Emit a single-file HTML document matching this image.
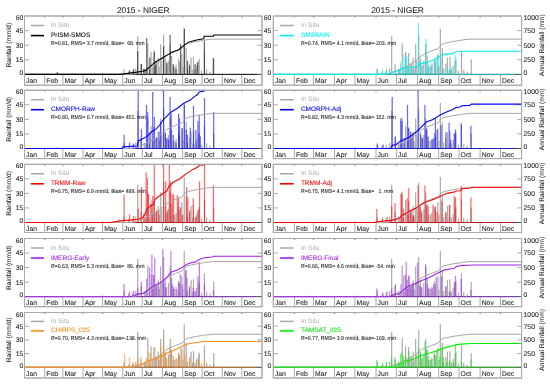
<!DOCTYPE html>
<html><head><meta charset="utf-8"><style>
html,body{margin:0;padding:0;background:#fff;width:550px;height:384px;overflow:hidden}
svg text{font-family:"Liberation Sans", sans-serif;stroke-width:0.07px;text-rendering:geometricPrecision}
</style></head><body>
<svg width="550" height="384" viewBox="0 0 550 384" style="display:block;will-change:transform">
<rect width="550" height="384" fill="#fff"/>
<text x="143.2" y="12.8" font-size="8.4" text-anchor="middle" fill="#1a1a1a" stroke="#1a1a1a">2015 - NIGER</text>
<text x="397.5" y="12.8" font-size="8.4" text-anchor="middle" fill="#1a1a1a" stroke="#1a1a1a">2015 - NIGER</text>
<g><rect x="24.5" y="16.0" width="237.5" height="69.2" fill="none" stroke="#aaaaaa" stroke-width="1"/><line x1="24.5" y1="74.4" x2="262.0" y2="74.4" stroke="#aaaaaa" stroke-width="1"/><text x="26.10" y="83.00" font-size="6.8" fill="#1a1a1a" stroke="#1a1a1a">Jan</text><line x1="44.67" y1="74.4" x2="44.67" y2="85.2" stroke="#aaaaaa" stroke-width="1"/><line x1="44.67" y1="16.0" x2="44.67" y2="17.5" stroke="#555" stroke-width="0.8"/><text x="46.27" y="83.00" font-size="6.8" fill="#1a1a1a" stroke="#1a1a1a">Feb</text><line x1="62.89" y1="74.4" x2="62.89" y2="85.2" stroke="#aaaaaa" stroke-width="1"/><line x1="62.89" y1="16.0" x2="62.89" y2="17.5" stroke="#555" stroke-width="0.8"/><text x="64.49" y="83.00" font-size="6.8" fill="#1a1a1a" stroke="#1a1a1a">Mar</text><line x1="83.06" y1="74.4" x2="83.06" y2="85.2" stroke="#aaaaaa" stroke-width="1"/><line x1="83.06" y1="16.0" x2="83.06" y2="17.5" stroke="#555" stroke-width="0.8"/><text x="84.66" y="83.00" font-size="6.8" fill="#1a1a1a" stroke="#1a1a1a">Apr</text><line x1="102.58" y1="74.4" x2="102.58" y2="85.2" stroke="#aaaaaa" stroke-width="1"/><line x1="102.58" y1="16.0" x2="102.58" y2="17.5" stroke="#555" stroke-width="0.8"/><text x="104.18" y="83.00" font-size="6.8" fill="#1a1a1a" stroke="#1a1a1a">May</text><line x1="122.75" y1="74.4" x2="122.75" y2="85.2" stroke="#aaaaaa" stroke-width="1"/><line x1="122.75" y1="16.0" x2="122.75" y2="17.5" stroke="#555" stroke-width="0.8"/><text x="124.35" y="83.00" font-size="6.8" fill="#1a1a1a" stroke="#1a1a1a">Jun</text><line x1="142.27" y1="74.4" x2="142.27" y2="85.2" stroke="#aaaaaa" stroke-width="1"/><line x1="142.27" y1="16.0" x2="142.27" y2="17.5" stroke="#555" stroke-width="0.8"/><text x="143.87" y="83.00" font-size="6.8" fill="#1a1a1a" stroke="#1a1a1a">Jul</text><line x1="162.45" y1="74.4" x2="162.45" y2="85.2" stroke="#aaaaaa" stroke-width="1"/><line x1="162.45" y1="16.0" x2="162.45" y2="17.5" stroke="#555" stroke-width="0.8"/><text x="164.05" y="83.00" font-size="6.8" fill="#1a1a1a" stroke="#1a1a1a">Aug</text><line x1="182.62" y1="74.4" x2="182.62" y2="85.2" stroke="#aaaaaa" stroke-width="1"/><line x1="182.62" y1="16.0" x2="182.62" y2="17.5" stroke="#555" stroke-width="0.8"/><text x="184.22" y="83.00" font-size="6.8" fill="#1a1a1a" stroke="#1a1a1a">Sep</text><line x1="202.14" y1="74.4" x2="202.14" y2="85.2" stroke="#aaaaaa" stroke-width="1"/><line x1="202.14" y1="16.0" x2="202.14" y2="17.5" stroke="#555" stroke-width="0.8"/><text x="203.74" y="83.00" font-size="6.8" fill="#1a1a1a" stroke="#1a1a1a">Oct</text><line x1="222.31" y1="74.4" x2="222.31" y2="85.2" stroke="#aaaaaa" stroke-width="1"/><line x1="222.31" y1="16.0" x2="222.31" y2="17.5" stroke="#555" stroke-width="0.8"/><text x="223.91" y="83.00" font-size="6.8" fill="#1a1a1a" stroke="#1a1a1a">Nov</text><line x1="241.83" y1="74.4" x2="241.83" y2="85.2" stroke="#aaaaaa" stroke-width="1"/><line x1="241.83" y1="16.0" x2="241.83" y2="17.5" stroke="#555" stroke-width="0.8"/><text x="243.43" y="83.00" font-size="6.8" fill="#1a1a1a" stroke="#1a1a1a">Dec</text><line x1="24.5" y1="59.80" x2="29.0" y2="59.80" stroke="#aaaaaa" stroke-width="1"/><line x1="257.5" y1="59.80" x2="262.0" y2="59.80" stroke="#aaaaaa" stroke-width="1"/><line x1="24.5" y1="45.20" x2="29.0" y2="45.20" stroke="#aaaaaa" stroke-width="1"/><line x1="257.5" y1="45.20" x2="262.0" y2="45.20" stroke="#aaaaaa" stroke-width="1"/><line x1="24.5" y1="30.60" x2="29.0" y2="30.60" stroke="#aaaaaa" stroke-width="1"/><line x1="257.5" y1="30.60" x2="262.0" y2="30.60" stroke="#aaaaaa" stroke-width="1"/><text x="23.20" y="75.10" font-size="6.8" text-anchor="end" fill="#1a1a1a" stroke="#1a1a1a">0</text><text x="23.20" y="62.20" font-size="6.8" text-anchor="end" fill="#1a1a1a" stroke="#1a1a1a">15</text><text x="23.20" y="47.60" font-size="6.8" text-anchor="end" fill="#1a1a1a" stroke="#1a1a1a">30</text><text x="23.20" y="33.00" font-size="6.8" text-anchor="end" fill="#1a1a1a" stroke="#1a1a1a">45</text><text x="23.20" y="20.10" font-size="6.8" text-anchor="end" fill="#1a1a1a" stroke="#1a1a1a">60</text><text transform="translate(10.6,45.20) rotate(-90)" font-size="6.6" text-anchor="middle" fill="#1a1a1a" stroke="#1a1a1a">Rainfall (mm/d)</text><clipPath id="cp00"><rect x="24.5" y="16.0" width="237.5" height="59.2"/></clipPath><g clip-path="url(#cp00)"><rect x="47.32" y="73.62" width="1.2" height="0.78" fill="#ababab"/><rect x="56.43" y="73.43" width="1.2" height="0.97" fill="#ababab"/><rect x="101.98" y="73.23" width="1.2" height="1.17" fill="#ababab"/><rect x="123.45" y="68.95" width="1.2" height="5.45" fill="#ababab"/><rect x="128.01" y="71.48" width="1.2" height="2.92" fill="#ababab"/><rect x="131.91" y="70.51" width="1.2" height="3.89" fill="#ababab"/><rect x="135.17" y="68.56" width="1.2" height="5.84" fill="#ababab"/><rect x="137.12" y="36.44" width="1.2" height="37.96" fill="#ababab"/><rect x="140.37" y="63.69" width="1.2" height="10.71" fill="#ababab"/><rect x="143.63" y="68.56" width="1.2" height="5.84" fill="#ababab"/><rect x="144.93" y="70.51" width="1.2" height="3.89" fill="#ababab"/><rect x="147.20" y="43.25" width="1.2" height="31.15" fill="#ababab"/><rect x="148.83" y="69.53" width="1.2" height="4.87" fill="#ababab"/><rect x="150.46" y="52.01" width="1.2" height="22.39" fill="#ababab"/><rect x="152.08" y="66.61" width="1.2" height="7.79" fill="#ababab"/><rect x="153.39" y="52.99" width="1.2" height="21.41" fill="#ababab"/><rect x="154.69" y="64.67" width="1.2" height="9.73" fill="#ababab"/><rect x="155.99" y="62.72" width="1.2" height="11.68" fill="#ababab"/><rect x="157.62" y="57.85" width="1.2" height="16.55" fill="#ababab"/><rect x="158.59" y="66.61" width="1.2" height="7.79" fill="#ababab"/><rect x="160.09" y="44.23" width="1.2" height="30.17" fill="#ababab"/><rect x="161.19" y="60.77" width="1.2" height="13.63" fill="#ababab"/><rect x="163.02" y="34.49" width="1.2" height="39.91" fill="#ababab"/><rect x="164.64" y="57.85" width="1.2" height="16.55" fill="#ababab"/><rect x="166.07" y="64.67" width="1.2" height="9.73" fill="#ababab"/><rect x="167.90" y="60.77" width="1.2" height="13.63" fill="#ababab"/><rect x="169.65" y="44.23" width="1.2" height="30.17" fill="#ababab"/><rect x="171.08" y="55.91" width="1.2" height="18.49" fill="#ababab"/><rect x="172.58" y="66.61" width="1.2" height="7.79" fill="#ababab"/><rect x="174.21" y="66.61" width="1.2" height="7.79" fill="#ababab"/><rect x="175.51" y="64.67" width="1.2" height="9.73" fill="#ababab"/><rect x="177.98" y="58.83" width="1.2" height="15.57" fill="#ababab"/><rect x="178.96" y="61.75" width="1.2" height="12.65" fill="#ababab"/><rect x="181.30" y="53.96" width="1.2" height="20.44" fill="#ababab"/><rect x="182.34" y="66.61" width="1.2" height="7.79" fill="#ababab"/><rect x="183.64" y="28.65" width="1.2" height="45.75" fill="#ababab"/><rect x="185.60" y="48.12" width="1.2" height="26.28" fill="#ababab"/><rect x="186.90" y="68.56" width="1.2" height="5.84" fill="#ababab"/><rect x="188.98" y="63.69" width="1.2" height="10.71" fill="#ababab"/><rect x="190.48" y="57.85" width="1.2" height="16.55" fill="#ababab"/><rect x="192.17" y="69.53" width="1.2" height="4.87" fill="#ababab"/><rect x="192.88" y="56.88" width="1.2" height="17.52" fill="#ababab"/><rect x="194.38" y="69.53" width="1.2" height="4.87" fill="#ababab"/><rect x="195.94" y="65.64" width="1.2" height="8.76" fill="#ababab"/><rect x="197.83" y="60.77" width="1.2" height="13.63" fill="#ababab"/><rect x="198.61" y="58.83" width="1.2" height="15.57" fill="#ababab"/><rect x="200.89" y="70.51" width="1.2" height="3.89" fill="#ababab"/><rect x="203.88" y="51.04" width="1.2" height="23.36" fill="#ababab"/><rect x="206.09" y="69.53" width="1.2" height="4.87" fill="#ababab"/><rect x="209.35" y="71.48" width="1.2" height="2.92" fill="#ababab"/><rect x="213.18" y="59.31" width="1.2" height="15.09" fill="#ababab"/><rect x="56.70" y="72.00" width="1.2" height="2.40" fill="#000000" fill-opacity="0.6"/><rect x="129.00" y="70.10" width="1.2" height="4.30" fill="#000000" fill-opacity="0.6"/><rect x="133.00" y="68.80" width="1.2" height="5.60" fill="#000000" fill-opacity="0.6"/><rect x="137.10" y="51.10" width="1.2" height="23.30" fill="#000000" fill-opacity="0.6"/><rect x="140.80" y="64.00" width="1.2" height="10.40" fill="#000000" fill-opacity="0.6"/><rect x="143.20" y="68.80" width="1.2" height="5.60" fill="#000000" fill-opacity="0.6"/><rect x="146.10" y="38.20" width="1.2" height="36.20" fill="#000000" fill-opacity="0.6"/><rect x="149.20" y="57.50" width="1.2" height="16.90" fill="#000000" fill-opacity="0.6"/><rect x="153.70" y="51.10" width="1.2" height="23.30" fill="#000000" fill-opacity="0.6"/><rect x="155.30" y="60.80" width="1.2" height="13.60" fill="#000000" fill-opacity="0.6"/><rect x="163.00" y="46.30" width="1.2" height="28.10" fill="#000000" fill-opacity="0.6"/><rect x="166.30" y="62.40" width="1.2" height="12.00" fill="#000000" fill-opacity="0.6"/><rect x="169.50" y="35.00" width="1.2" height="39.40" fill="#000000" fill-opacity="0.6"/><rect x="172.70" y="64.00" width="1.2" height="10.40" fill="#000000" fill-opacity="0.6"/><rect x="175.40" y="68.80" width="1.2" height="5.60" fill="#000000" fill-opacity="0.6"/><rect x="180.00" y="43.80" width="1.2" height="30.60" fill="#000000" fill-opacity="0.6"/><rect x="183.70" y="28.50" width="1.2" height="45.90" fill="#000000" fill-opacity="0.6"/><rect x="186.90" y="60.80" width="1.2" height="13.60" fill="#000000" fill-opacity="0.6"/><rect x="188.90" y="65.60" width="1.2" height="8.80" fill="#000000" fill-opacity="0.6"/><rect x="194.50" y="64.00" width="1.2" height="10.40" fill="#000000" fill-opacity="0.6"/><rect x="196.90" y="62.40" width="1.2" height="12.00" fill="#000000" fill-opacity="0.6"/><rect x="203.80" y="40.60" width="1.2" height="33.80" fill="#000000" fill-opacity="0.6"/><rect x="212.70" y="57.90" width="1.2" height="16.50" fill="#000000" fill-opacity="0.6"/><line x1="24.5" y1="74.4" x2="262.0" y2="74.4" stroke="#505050" stroke-width="1"/><line x1="24.5" y1="74.4" x2="256.8" y2="74.4" stroke="#000000" stroke-opacity="0.6" stroke-width="1"/><polyline points="24.50,74.40 131.21,74.40 136.09,73.70 138.37,72.06 141.62,71.48 146.37,69.14 152.55,65.82 158.67,62.60 163.36,57.93 166.41,55.42 171.03,53.08 175.72,51.04 181.97,48.70 185.02,44.91 188.08,43.16 190.62,42.81 196.28,41.46 202.53,40.53 205.59,39.94 212.55,39.18 262.00,39.18" fill="none" stroke="#a6a6a6" stroke-width="1"/><polyline points="24.50,74.40 118.00,74.40 120.00,74.40 137.30,72.10 142.50,71.30 145.90,70.40 148.50,67.80 154.50,62.60 158.90,60.00 163.20,57.50 167.50,54.90 171.80,52.30 178.70,49.70 183.90,45.40 189.10,41.90 197.70,39.70 203.80,38.70 204.10,36.30 213.50,36.10 213.80,35.00 262.00,35.00" fill="none" stroke="#000000" stroke-width="1.1"/></g><line x1="30.9" y1="25.5" x2="44.0" y2="25.5" stroke="#a8a8a8" stroke-width="1.5"/><text x="50.9" y="27.0" font-size="6.5" fill="#b4b4b4" stroke="#b4b4b4">In Situ</text><line x1="30.9" y1="35.6" x2="44.0" y2="35.6" stroke="#000000" stroke-width="1.6"/><text x="50.9" y="37.1" font-size="6.5" fill="#000000" stroke="#000000">PrISM-SMOS</text><text transform="translate(50.9,45.1) scale(1,1.12)" font-size="5.2" fill="#1a1a1a" stroke="#1a1a1a" xml:space="preserve">R=0.81, RMS= 3.7 mm/d, Bias=  68. mm</text><rect x="24.5" y="16.0" width="237.5" height="69.2" fill="none" stroke="#aaaaaa" stroke-width="1"/></g>
<g><rect x="273.3" y="16.0" width="248.3" height="69.2" fill="none" stroke="#aaaaaa" stroke-width="1"/><line x1="273.3" y1="74.4" x2="521.6" y2="74.4" stroke="#aaaaaa" stroke-width="1"/><text x="274.90" y="83.00" font-size="6.8" fill="#1a1a1a" stroke="#1a1a1a">Jan</text><line x1="294.39" y1="74.4" x2="294.39" y2="85.2" stroke="#aaaaaa" stroke-width="1"/><line x1="294.39" y1="16.0" x2="294.39" y2="17.5" stroke="#555" stroke-width="0.8"/><text x="295.99" y="83.00" font-size="6.8" fill="#1a1a1a" stroke="#1a1a1a">Feb</text><line x1="313.44" y1="74.4" x2="313.44" y2="85.2" stroke="#aaaaaa" stroke-width="1"/><line x1="313.44" y1="16.0" x2="313.44" y2="17.5" stroke="#555" stroke-width="0.8"/><text x="315.04" y="83.00" font-size="6.8" fill="#1a1a1a" stroke="#1a1a1a">Mar</text><line x1="334.52" y1="74.4" x2="334.52" y2="85.2" stroke="#aaaaaa" stroke-width="1"/><line x1="334.52" y1="16.0" x2="334.52" y2="17.5" stroke="#555" stroke-width="0.8"/><text x="336.12" y="83.00" font-size="6.8" fill="#1a1a1a" stroke="#1a1a1a">Apr</text><line x1="354.93" y1="74.4" x2="354.93" y2="85.2" stroke="#aaaaaa" stroke-width="1"/><line x1="354.93" y1="16.0" x2="354.93" y2="17.5" stroke="#555" stroke-width="0.8"/><text x="356.53" y="83.00" font-size="6.8" fill="#1a1a1a" stroke="#1a1a1a">May</text><line x1="376.02" y1="74.4" x2="376.02" y2="85.2" stroke="#aaaaaa" stroke-width="1"/><line x1="376.02" y1="16.0" x2="376.02" y2="17.5" stroke="#555" stroke-width="0.8"/><text x="377.62" y="83.00" font-size="6.8" fill="#1a1a1a" stroke="#1a1a1a">Jun</text><line x1="396.43" y1="74.4" x2="396.43" y2="85.2" stroke="#aaaaaa" stroke-width="1"/><line x1="396.43" y1="16.0" x2="396.43" y2="17.5" stroke="#555" stroke-width="0.8"/><text x="398.03" y="83.00" font-size="6.8" fill="#1a1a1a" stroke="#1a1a1a">Jul</text><line x1="417.52" y1="74.4" x2="417.52" y2="85.2" stroke="#aaaaaa" stroke-width="1"/><line x1="417.52" y1="16.0" x2="417.52" y2="17.5" stroke="#555" stroke-width="0.8"/><text x="419.12" y="83.00" font-size="6.8" fill="#1a1a1a" stroke="#1a1a1a">Aug</text><line x1="438.61" y1="74.4" x2="438.61" y2="85.2" stroke="#aaaaaa" stroke-width="1"/><line x1="438.61" y1="16.0" x2="438.61" y2="17.5" stroke="#555" stroke-width="0.8"/><text x="440.21" y="83.00" font-size="6.8" fill="#1a1a1a" stroke="#1a1a1a">Sep</text><line x1="459.01" y1="74.4" x2="459.01" y2="85.2" stroke="#aaaaaa" stroke-width="1"/><line x1="459.01" y1="16.0" x2="459.01" y2="17.5" stroke="#555" stroke-width="0.8"/><text x="460.61" y="83.00" font-size="6.8" fill="#1a1a1a" stroke="#1a1a1a">Oct</text><line x1="480.10" y1="74.4" x2="480.10" y2="85.2" stroke="#aaaaaa" stroke-width="1"/><line x1="480.10" y1="16.0" x2="480.10" y2="17.5" stroke="#555" stroke-width="0.8"/><text x="481.70" y="83.00" font-size="6.8" fill="#1a1a1a" stroke="#1a1a1a">Nov</text><line x1="500.51" y1="74.4" x2="500.51" y2="85.2" stroke="#aaaaaa" stroke-width="1"/><line x1="500.51" y1="16.0" x2="500.51" y2="17.5" stroke="#555" stroke-width="0.8"/><text x="502.11" y="83.00" font-size="6.8" fill="#1a1a1a" stroke="#1a1a1a">Dec</text><line x1="273.3" y1="59.80" x2="277.8" y2="59.80" stroke="#aaaaaa" stroke-width="1"/><line x1="517.1" y1="59.80" x2="521.6" y2="59.80" stroke="#aaaaaa" stroke-width="1"/><line x1="273.3" y1="45.20" x2="277.8" y2="45.20" stroke="#aaaaaa" stroke-width="1"/><line x1="517.1" y1="45.20" x2="521.6" y2="45.20" stroke="#aaaaaa" stroke-width="1"/><line x1="273.3" y1="30.60" x2="277.8" y2="30.60" stroke="#aaaaaa" stroke-width="1"/><line x1="517.1" y1="30.60" x2="521.6" y2="30.60" stroke="#aaaaaa" stroke-width="1"/><text x="271.20" y="75.10" font-size="6.8" text-anchor="end" fill="#1a1a1a" stroke="#1a1a1a">0</text><text x="271.20" y="62.20" font-size="6.8" text-anchor="end" fill="#1a1a1a" stroke="#1a1a1a">15</text><text x="271.20" y="47.60" font-size="6.8" text-anchor="end" fill="#1a1a1a" stroke="#1a1a1a">30</text><text x="271.20" y="33.00" font-size="6.8" text-anchor="end" fill="#1a1a1a" stroke="#1a1a1a">45</text><text x="271.20" y="20.10" font-size="6.8" text-anchor="end" fill="#1a1a1a" stroke="#1a1a1a">60</text><text x="523.60" y="75.10" font-size="6.8" fill="#1a1a1a" stroke="#1a1a1a">0</text><text x="523.60" y="62.20" font-size="6.8" fill="#1a1a1a" stroke="#1a1a1a">250</text><text x="523.60" y="47.60" font-size="6.8" fill="#1a1a1a" stroke="#1a1a1a">500</text><text x="523.60" y="33.00" font-size="6.8" fill="#1a1a1a" stroke="#1a1a1a">750</text><text x="523.60" y="20.10" font-size="6.8" fill="#1a1a1a" stroke="#1a1a1a">1000</text><text transform="translate(544.3,45.20) rotate(-90)" font-size="6.6" text-anchor="middle" fill="#1a1a1a" stroke="#1a1a1a">Annual Rainfall (mm)</text><clipPath id="cp01"><rect x="273.3" y="16.0" width="248.3" height="59.2"/></clipPath><g clip-path="url(#cp01)"><rect x="297.19" y="73.62" width="1.2" height="0.78" fill="#ababab"/><rect x="306.71" y="73.43" width="1.2" height="0.97" fill="#ababab"/><rect x="354.33" y="73.23" width="1.2" height="1.17" fill="#ababab"/><rect x="376.78" y="68.95" width="1.2" height="5.45" fill="#ababab"/><rect x="381.54" y="71.48" width="1.2" height="2.92" fill="#ababab"/><rect x="385.63" y="70.51" width="1.2" height="3.89" fill="#ababab"/><rect x="389.03" y="68.56" width="1.2" height="5.84" fill="#ababab"/><rect x="391.07" y="36.44" width="1.2" height="37.96" fill="#ababab"/><rect x="394.47" y="63.69" width="1.2" height="10.71" fill="#ababab"/><rect x="397.87" y="68.56" width="1.2" height="5.84" fill="#ababab"/><rect x="399.23" y="70.51" width="1.2" height="3.89" fill="#ababab"/><rect x="401.61" y="43.25" width="1.2" height="31.15" fill="#ababab"/><rect x="403.31" y="69.53" width="1.2" height="4.87" fill="#ababab"/><rect x="405.01" y="52.01" width="1.2" height="22.39" fill="#ababab"/><rect x="406.71" y="66.61" width="1.2" height="7.79" fill="#ababab"/><rect x="408.07" y="52.99" width="1.2" height="21.41" fill="#ababab"/><rect x="409.44" y="64.67" width="1.2" height="9.73" fill="#ababab"/><rect x="410.80" y="62.72" width="1.2" height="11.68" fill="#ababab"/><rect x="412.50" y="57.85" width="1.2" height="16.55" fill="#ababab"/><rect x="413.52" y="66.61" width="1.2" height="7.79" fill="#ababab"/><rect x="415.08" y="44.23" width="1.2" height="30.17" fill="#ababab"/><rect x="416.24" y="60.77" width="1.2" height="13.63" fill="#ababab"/><rect x="418.14" y="34.49" width="1.2" height="39.91" fill="#ababab"/><rect x="419.84" y="57.85" width="1.2" height="16.55" fill="#ababab"/><rect x="421.34" y="64.67" width="1.2" height="9.73" fill="#ababab"/><rect x="423.24" y="60.77" width="1.2" height="13.63" fill="#ababab"/><rect x="425.08" y="44.23" width="1.2" height="30.17" fill="#ababab"/><rect x="426.58" y="55.91" width="1.2" height="18.49" fill="#ababab"/><rect x="428.14" y="66.61" width="1.2" height="7.79" fill="#ababab"/><rect x="429.84" y="66.61" width="1.2" height="7.79" fill="#ababab"/><rect x="431.20" y="64.67" width="1.2" height="9.73" fill="#ababab"/><rect x="433.79" y="58.83" width="1.2" height="15.57" fill="#ababab"/><rect x="434.81" y="61.75" width="1.2" height="12.65" fill="#ababab"/><rect x="437.26" y="53.96" width="1.2" height="20.44" fill="#ababab"/><rect x="438.35" y="66.61" width="1.2" height="7.79" fill="#ababab"/><rect x="439.71" y="28.65" width="1.2" height="45.75" fill="#ababab"/><rect x="441.75" y="48.12" width="1.2" height="26.28" fill="#ababab"/><rect x="443.11" y="68.56" width="1.2" height="5.84" fill="#ababab"/><rect x="445.29" y="63.69" width="1.2" height="10.71" fill="#ababab"/><rect x="446.85" y="57.85" width="1.2" height="16.55" fill="#ababab"/><rect x="448.62" y="69.53" width="1.2" height="4.87" fill="#ababab"/><rect x="449.37" y="56.88" width="1.2" height="17.52" fill="#ababab"/><rect x="450.93" y="69.53" width="1.2" height="4.87" fill="#ababab"/><rect x="452.56" y="65.64" width="1.2" height="8.76" fill="#ababab"/><rect x="454.54" y="60.77" width="1.2" height="13.63" fill="#ababab"/><rect x="455.35" y="58.83" width="1.2" height="15.57" fill="#ababab"/><rect x="457.73" y="70.51" width="1.2" height="3.89" fill="#ababab"/><rect x="460.86" y="51.04" width="1.2" height="23.36" fill="#ababab"/><rect x="463.18" y="69.53" width="1.2" height="4.87" fill="#ababab"/><rect x="466.58" y="71.48" width="1.2" height="2.92" fill="#ababab"/><rect x="470.59" y="59.31" width="1.2" height="15.09" fill="#ababab"/><rect x="307.00" y="73.00" width="1.2" height="1.40" fill="#00f0f0" fill-opacity="0.6"/><rect x="376.20" y="69.70" width="1.2" height="4.70" fill="#00f0f0" fill-opacity="0.6"/><rect x="382.00" y="70.20" width="1.2" height="4.20" fill="#00f0f0" fill-opacity="0.6"/><rect x="386.00" y="69.00" width="1.2" height="5.40" fill="#00f0f0" fill-opacity="0.6"/><rect x="395.20" y="70.50" width="1.2" height="3.90" fill="#00f0f0" fill-opacity="0.6"/><rect x="398.90" y="69.70" width="1.2" height="4.70" fill="#00f0f0" fill-opacity="0.6"/><rect x="400.00" y="62.40" width="1.2" height="12.00" fill="#00f0f0" fill-opacity="0.6"/><rect x="403.30" y="54.30" width="1.2" height="20.10" fill="#00f0f0" fill-opacity="0.6"/><rect x="404.90" y="57.50" width="1.2" height="16.90" fill="#00f0f0" fill-opacity="0.6"/><rect x="406.00" y="55.90" width="1.2" height="18.50" fill="#00f0f0" fill-opacity="0.6"/><rect x="408.10" y="67.20" width="1.2" height="7.20" fill="#00f0f0" fill-opacity="0.6"/><rect x="410.50" y="68.80" width="1.2" height="5.60" fill="#00f0f0" fill-opacity="0.6"/><rect x="412.10" y="69.70" width="1.2" height="4.70" fill="#00f0f0" fill-opacity="0.6"/><rect x="417.80" y="22.90" width="1.2" height="51.50" fill="#00f0f0" fill-opacity="0.6"/><rect x="419.40" y="60.80" width="1.2" height="13.60" fill="#00f0f0" fill-opacity="0.6"/><rect x="421.80" y="67.20" width="1.2" height="7.20" fill="#00f0f0" fill-opacity="0.6"/><rect x="425.50" y="39.00" width="1.2" height="35.40" fill="#00f0f0" fill-opacity="0.6"/><rect x="426.70" y="65.60" width="1.2" height="8.80" fill="#00f0f0" fill-opacity="0.6"/><rect x="428.30" y="64.00" width="1.2" height="10.40" fill="#00f0f0" fill-opacity="0.6"/><rect x="431.50" y="62.40" width="1.2" height="12.00" fill="#00f0f0" fill-opacity="0.6"/><rect x="435.50" y="59.20" width="1.2" height="15.20" fill="#00f0f0" fill-opacity="0.6"/><rect x="437.10" y="56.00" width="1.2" height="18.40" fill="#00f0f0" fill-opacity="0.6"/><rect x="440.50" y="57.60" width="1.2" height="16.80" fill="#00f0f0" fill-opacity="0.6"/><rect x="446.90" y="69.00" width="1.2" height="5.40" fill="#00f0f0" fill-opacity="0.6"/><rect x="449.10" y="69.70" width="1.2" height="4.70" fill="#00f0f0" fill-opacity="0.6"/><rect x="450.20" y="67.30" width="1.2" height="7.10" fill="#00f0f0" fill-opacity="0.6"/><rect x="454.70" y="55.20" width="1.2" height="19.20" fill="#00f0f0" fill-opacity="0.6"/><line x1="273.3" y1="74.4" x2="521.6" y2="74.4" stroke="#505050" stroke-width="1"/><line x1="273.3" y1="74.4" x2="516.2" y2="74.4" stroke="#00f0f0" stroke-opacity="0.6" stroke-width="1"/><polyline points="273.30,74.40 384.86,74.40 389.97,73.70 392.35,72.06 395.75,71.48 400.72,69.14 407.18,65.82 413.57,62.60 418.47,57.93 421.67,55.42 426.50,53.08 431.40,51.04 437.93,48.70 441.12,44.91 444.32,43.16 446.97,42.81 452.89,41.46 459.42,40.53 462.62,39.94 469.90,39.18 521.60,39.18" fill="none" stroke="#a6a6a6" stroke-width="1"/><polyline points="273.30,74.40 380.00,74.40 390.00,73.20 395.00,71.50 400.00,70.50 401.50,68.80 404.70,68.00 411.10,67.20 417.60,66.40 420.00,64.00 427.30,62.40 433.70,60.00 439.00,56.70 443.20,54.40 452.90,53.60 456.20,51.50 461.00,51.20 521.60,51.20" fill="none" stroke="#00f0f0" stroke-width="1.1"/></g><line x1="280.0" y1="25.5" x2="293.7" y2="25.5" stroke="#a8a8a8" stroke-width="1.5"/><text x="300.9" y="27.0" font-size="6.5" fill="#b4b4b4" stroke="#b4b4b4">In Situ</text><line x1="280.0" y1="35.6" x2="293.7" y2="35.6" stroke="#00f0f0" stroke-width="1.6"/><text x="300.9" y="37.1" font-size="6.5" fill="#00f0f0" stroke="#00f0f0">SM2RAIN</text><text transform="translate(300.9,45.1) scale(1,1.12)" font-size="5.2" fill="#1a1a1a" stroke="#1a1a1a" xml:space="preserve">R=0.74, RMS= 4.1 mm/d, Bias=-203. mm</text><rect x="273.3" y="16.0" width="248.3" height="69.2" fill="none" stroke="#aaaaaa" stroke-width="1"/></g>
<g><rect x="24.5" y="90.2" width="237.5" height="68.4" fill="none" stroke="#aaaaaa" stroke-width="1"/><line x1="24.5" y1="148.5" x2="262.0" y2="148.5" stroke="#aaaaaa" stroke-width="1"/><text x="26.10" y="157.10" font-size="6.8" fill="#1a1a1a" stroke="#1a1a1a">Jan</text><line x1="44.67" y1="148.5" x2="44.67" y2="158.6" stroke="#aaaaaa" stroke-width="1"/><line x1="44.67" y1="90.2" x2="44.67" y2="91.7" stroke="#555" stroke-width="0.8"/><text x="46.27" y="157.10" font-size="6.8" fill="#1a1a1a" stroke="#1a1a1a">Feb</text><line x1="62.89" y1="148.5" x2="62.89" y2="158.6" stroke="#aaaaaa" stroke-width="1"/><line x1="62.89" y1="90.2" x2="62.89" y2="91.7" stroke="#555" stroke-width="0.8"/><text x="64.49" y="157.10" font-size="6.8" fill="#1a1a1a" stroke="#1a1a1a">Mar</text><line x1="83.06" y1="148.5" x2="83.06" y2="158.6" stroke="#aaaaaa" stroke-width="1"/><line x1="83.06" y1="90.2" x2="83.06" y2="91.7" stroke="#555" stroke-width="0.8"/><text x="84.66" y="157.10" font-size="6.8" fill="#1a1a1a" stroke="#1a1a1a">Apr</text><line x1="102.58" y1="148.5" x2="102.58" y2="158.6" stroke="#aaaaaa" stroke-width="1"/><line x1="102.58" y1="90.2" x2="102.58" y2="91.7" stroke="#555" stroke-width="0.8"/><text x="104.18" y="157.10" font-size="6.8" fill="#1a1a1a" stroke="#1a1a1a">May</text><line x1="122.75" y1="148.5" x2="122.75" y2="158.6" stroke="#aaaaaa" stroke-width="1"/><line x1="122.75" y1="90.2" x2="122.75" y2="91.7" stroke="#555" stroke-width="0.8"/><text x="124.35" y="157.10" font-size="6.8" fill="#1a1a1a" stroke="#1a1a1a">Jun</text><line x1="142.27" y1="148.5" x2="142.27" y2="158.6" stroke="#aaaaaa" stroke-width="1"/><line x1="142.27" y1="90.2" x2="142.27" y2="91.7" stroke="#555" stroke-width="0.8"/><text x="143.87" y="157.10" font-size="6.8" fill="#1a1a1a" stroke="#1a1a1a">Jul</text><line x1="162.45" y1="148.5" x2="162.45" y2="158.6" stroke="#aaaaaa" stroke-width="1"/><line x1="162.45" y1="90.2" x2="162.45" y2="91.7" stroke="#555" stroke-width="0.8"/><text x="164.05" y="157.10" font-size="6.8" fill="#1a1a1a" stroke="#1a1a1a">Aug</text><line x1="182.62" y1="148.5" x2="182.62" y2="158.6" stroke="#aaaaaa" stroke-width="1"/><line x1="182.62" y1="90.2" x2="182.62" y2="91.7" stroke="#555" stroke-width="0.8"/><text x="184.22" y="157.10" font-size="6.8" fill="#1a1a1a" stroke="#1a1a1a">Sep</text><line x1="202.14" y1="148.5" x2="202.14" y2="158.6" stroke="#aaaaaa" stroke-width="1"/><line x1="202.14" y1="90.2" x2="202.14" y2="91.7" stroke="#555" stroke-width="0.8"/><text x="203.74" y="157.10" font-size="6.8" fill="#1a1a1a" stroke="#1a1a1a">Oct</text><line x1="222.31" y1="148.5" x2="222.31" y2="158.6" stroke="#aaaaaa" stroke-width="1"/><line x1="222.31" y1="90.2" x2="222.31" y2="91.7" stroke="#555" stroke-width="0.8"/><text x="223.91" y="157.10" font-size="6.8" fill="#1a1a1a" stroke="#1a1a1a">Nov</text><line x1="241.83" y1="148.5" x2="241.83" y2="158.6" stroke="#aaaaaa" stroke-width="1"/><line x1="241.83" y1="90.2" x2="241.83" y2="91.7" stroke="#555" stroke-width="0.8"/><text x="243.43" y="157.10" font-size="6.8" fill="#1a1a1a" stroke="#1a1a1a">Dec</text><line x1="24.5" y1="133.93" x2="29.0" y2="133.93" stroke="#aaaaaa" stroke-width="1"/><line x1="257.5" y1="133.93" x2="262.0" y2="133.93" stroke="#aaaaaa" stroke-width="1"/><line x1="24.5" y1="119.35" x2="29.0" y2="119.35" stroke="#aaaaaa" stroke-width="1"/><line x1="257.5" y1="119.35" x2="262.0" y2="119.35" stroke="#aaaaaa" stroke-width="1"/><line x1="24.5" y1="104.78" x2="29.0" y2="104.78" stroke="#aaaaaa" stroke-width="1"/><line x1="257.5" y1="104.78" x2="262.0" y2="104.78" stroke="#aaaaaa" stroke-width="1"/><text x="23.20" y="149.20" font-size="6.8" text-anchor="end" fill="#1a1a1a" stroke="#1a1a1a">0</text><text x="23.20" y="136.33" font-size="6.8" text-anchor="end" fill="#1a1a1a" stroke="#1a1a1a">15</text><text x="23.20" y="121.75" font-size="6.8" text-anchor="end" fill="#1a1a1a" stroke="#1a1a1a">30</text><text x="23.20" y="107.18" font-size="6.8" text-anchor="end" fill="#1a1a1a" stroke="#1a1a1a">45</text><text x="23.20" y="94.30" font-size="6.8" text-anchor="end" fill="#1a1a1a" stroke="#1a1a1a">60</text><text transform="translate(10.6,119.35) rotate(-90)" font-size="6.6" text-anchor="middle" fill="#1a1a1a" stroke="#1a1a1a">Rainfall (mm/d)</text><clipPath id="cp10"><rect x="24.5" y="90.2" width="237.5" height="59.1"/></clipPath><g clip-path="url(#cp10)"><rect x="47.32" y="147.72" width="1.2" height="0.78" fill="#ababab"/><rect x="56.43" y="147.53" width="1.2" height="0.97" fill="#ababab"/><rect x="101.98" y="147.33" width="1.2" height="1.17" fill="#ababab"/><rect x="123.45" y="143.06" width="1.2" height="5.44" fill="#ababab"/><rect x="128.01" y="145.59" width="1.2" height="2.91" fill="#ababab"/><rect x="131.91" y="144.61" width="1.2" height="3.89" fill="#ababab"/><rect x="135.17" y="142.67" width="1.2" height="5.83" fill="#ababab"/><rect x="137.12" y="110.61" width="1.2" height="37.89" fill="#ababab"/><rect x="140.37" y="137.81" width="1.2" height="10.69" fill="#ababab"/><rect x="143.63" y="142.67" width="1.2" height="5.83" fill="#ababab"/><rect x="144.93" y="144.61" width="1.2" height="3.89" fill="#ababab"/><rect x="147.20" y="117.41" width="1.2" height="31.09" fill="#ababab"/><rect x="148.83" y="143.64" width="1.2" height="4.86" fill="#ababab"/><rect x="150.46" y="126.15" width="1.2" height="22.35" fill="#ababab"/><rect x="152.08" y="140.73" width="1.2" height="7.77" fill="#ababab"/><rect x="153.39" y="127.12" width="1.2" height="21.38" fill="#ababab"/><rect x="154.69" y="138.78" width="1.2" height="9.72" fill="#ababab"/><rect x="155.99" y="136.84" width="1.2" height="11.66" fill="#ababab"/><rect x="157.62" y="131.98" width="1.2" height="16.52" fill="#ababab"/><rect x="158.59" y="140.73" width="1.2" height="7.77" fill="#ababab"/><rect x="160.09" y="118.38" width="1.2" height="30.12" fill="#ababab"/><rect x="161.19" y="134.90" width="1.2" height="13.60" fill="#ababab"/><rect x="163.02" y="108.66" width="1.2" height="39.84" fill="#ababab"/><rect x="164.64" y="131.98" width="1.2" height="16.52" fill="#ababab"/><rect x="166.07" y="138.78" width="1.2" height="9.72" fill="#ababab"/><rect x="167.90" y="134.90" width="1.2" height="13.60" fill="#ababab"/><rect x="169.65" y="118.38" width="1.2" height="30.12" fill="#ababab"/><rect x="171.08" y="130.04" width="1.2" height="18.46" fill="#ababab"/><rect x="172.58" y="140.73" width="1.2" height="7.77" fill="#ababab"/><rect x="174.21" y="140.73" width="1.2" height="7.77" fill="#ababab"/><rect x="175.51" y="138.78" width="1.2" height="9.72" fill="#ababab"/><rect x="177.98" y="132.95" width="1.2" height="15.55" fill="#ababab"/><rect x="178.96" y="135.87" width="1.2" height="12.63" fill="#ababab"/><rect x="181.30" y="128.09" width="1.2" height="20.40" fill="#ababab"/><rect x="182.34" y="140.73" width="1.2" height="7.77" fill="#ababab"/><rect x="183.64" y="102.83" width="1.2" height="45.67" fill="#ababab"/><rect x="185.60" y="122.27" width="1.2" height="26.23" fill="#ababab"/><rect x="186.90" y="142.67" width="1.2" height="5.83" fill="#ababab"/><rect x="188.98" y="137.81" width="1.2" height="10.69" fill="#ababab"/><rect x="190.48" y="131.98" width="1.2" height="16.52" fill="#ababab"/><rect x="192.17" y="143.64" width="1.2" height="4.86" fill="#ababab"/><rect x="192.88" y="131.01" width="1.2" height="17.49" fill="#ababab"/><rect x="194.38" y="143.64" width="1.2" height="4.86" fill="#ababab"/><rect x="195.94" y="139.75" width="1.2" height="8.74" fill="#ababab"/><rect x="197.83" y="134.90" width="1.2" height="13.60" fill="#ababab"/><rect x="198.61" y="132.95" width="1.2" height="15.55" fill="#ababab"/><rect x="200.89" y="144.61" width="1.2" height="3.89" fill="#ababab"/><rect x="203.88" y="125.18" width="1.2" height="23.32" fill="#ababab"/><rect x="206.09" y="143.64" width="1.2" height="4.86" fill="#ababab"/><rect x="209.35" y="145.59" width="1.2" height="2.91" fill="#ababab"/><rect x="213.18" y="133.44" width="1.2" height="15.06" fill="#ababab"/><rect x="123.50" y="134.80" width="1.2" height="13.70" fill="#0000ff" fill-opacity="0.6"/><rect x="129.00" y="142.80" width="1.2" height="5.70" fill="#0000ff" fill-opacity="0.6"/><rect x="133.00" y="143.60" width="1.2" height="4.90" fill="#0000ff" fill-opacity="0.6"/><rect x="137.60" y="90.40" width="1.2" height="58.10" fill="#0000ff" fill-opacity="0.6"/><rect x="140.80" y="129.10" width="1.2" height="19.40" fill="#0000ff" fill-opacity="0.6"/><rect x="145.90" y="104.90" width="1.2" height="43.60" fill="#0000ff" fill-opacity="0.6"/><rect x="147.20" y="112.20" width="1.2" height="36.30" fill="#0000ff" fill-opacity="0.6"/><rect x="149.20" y="132.40" width="1.2" height="16.10" fill="#0000ff" fill-opacity="0.6"/><rect x="152.10" y="92.00" width="1.2" height="56.50" fill="#0000ff" fill-opacity="0.6"/><rect x="153.70" y="117.00" width="1.2" height="31.50" fill="#0000ff" fill-opacity="0.6"/><rect x="156.10" y="138.00" width="1.2" height="10.50" fill="#0000ff" fill-opacity="0.6"/><rect x="158.50" y="131.50" width="1.2" height="17.00" fill="#0000ff" fill-opacity="0.6"/><rect x="160.10" y="121.90" width="1.2" height="26.60" fill="#0000ff" fill-opacity="0.6"/><rect x="163.00" y="90.40" width="1.2" height="58.10" fill="#0000ff" fill-opacity="0.6"/><rect x="164.70" y="133.20" width="1.2" height="15.30" fill="#0000ff" fill-opacity="0.6"/><rect x="166.30" y="138.00" width="1.2" height="10.50" fill="#0000ff" fill-opacity="0.6"/><rect x="167.90" y="139.60" width="1.2" height="8.90" fill="#0000ff" fill-opacity="0.6"/><rect x="169.50" y="96.90" width="1.2" height="51.60" fill="#0000ff" fill-opacity="0.6"/><rect x="170.60" y="113.80" width="1.2" height="34.70" fill="#0000ff" fill-opacity="0.6"/><rect x="172.70" y="134.80" width="1.2" height="13.70" fill="#0000ff" fill-opacity="0.6"/><rect x="175.40" y="142.80" width="1.2" height="5.70" fill="#0000ff" fill-opacity="0.6"/><rect x="178.00" y="113.80" width="1.2" height="34.70" fill="#0000ff" fill-opacity="0.6"/><rect x="178.90" y="118.60" width="1.2" height="29.90" fill="#0000ff" fill-opacity="0.6"/><rect x="181.60" y="128.30" width="1.2" height="20.20" fill="#0000ff" fill-opacity="0.6"/><rect x="183.70" y="104.90" width="1.2" height="43.60" fill="#0000ff" fill-opacity="0.6"/><rect x="185.60" y="130.00" width="1.2" height="18.50" fill="#0000ff" fill-opacity="0.6"/><rect x="186.90" y="134.80" width="1.2" height="13.70" fill="#0000ff" fill-opacity="0.6"/><rect x="189.70" y="127.50" width="1.2" height="21.00" fill="#0000ff" fill-opacity="0.6"/><rect x="192.90" y="105.70" width="1.2" height="42.80" fill="#0000ff" fill-opacity="0.6"/><rect x="195.30" y="130.00" width="1.2" height="18.50" fill="#0000ff" fill-opacity="0.6"/><rect x="197.40" y="121.00" width="1.2" height="27.50" fill="#0000ff" fill-opacity="0.6"/><rect x="198.60" y="115.40" width="1.2" height="33.10" fill="#0000ff" fill-opacity="0.6"/><rect x="199.70" y="136.40" width="1.2" height="12.10" fill="#0000ff" fill-opacity="0.6"/><rect x="203.90" y="98.00" width="1.2" height="50.50" fill="#0000ff" fill-opacity="0.6"/><rect x="213.10" y="111.90" width="1.2" height="36.60" fill="#0000ff" fill-opacity="0.6"/><line x1="24.5" y1="148.5" x2="262.0" y2="148.5" stroke="#505050" stroke-width="1"/><line x1="24.5" y1="148.5" x2="256.8" y2="148.5" stroke="#0000ff" stroke-opacity="0.6" stroke-width="1"/><polyline points="24.50,148.50 131.21,148.50 136.09,147.80 138.37,146.17 141.62,145.59 146.37,143.25 152.55,139.93 158.67,136.72 163.36,132.06 166.41,129.55 171.03,127.22 175.72,125.18 181.97,122.85 185.02,119.06 188.08,117.31 190.62,116.96 196.28,115.62 202.53,114.69 205.59,114.10 212.55,113.35 262.00,113.35" fill="none" stroke="#a6a6a6" stroke-width="1"/><polyline points="24.50,148.50 122.00,148.50 123.00,146.90 137.40,146.00 138.20,141.20 147.00,136.40 148.60,134.80 151.90,131.50 154.30,130.30 156.70,128.30 160.00,124.50 162.80,120.30 167.70,115.40 170.90,112.20 177.40,108.20 183.80,103.30 190.30,100.10 195.10,96.10 197.60,94.50 199.20,92.00 203.30,91.20 204.60,90.90 204.70,70.00 262.00,70.00" fill="none" stroke="#0000ff" stroke-width="1.1"/></g><line x1="30.9" y1="99.7" x2="44.0" y2="99.7" stroke="#a8a8a8" stroke-width="1.5"/><text x="50.9" y="101.2" font-size="6.5" fill="#b4b4b4" stroke="#b4b4b4">In Situ</text><line x1="30.9" y1="109.7" x2="44.0" y2="109.7" stroke="#0000ff" stroke-width="1.6"/><text x="50.9" y="111.2" font-size="6.5" fill="#0000ff" stroke="#0000ff">CMORPH-Raw</text><text transform="translate(50.9,119.2) scale(1,1.12)" font-size="5.2" fill="#1a1a1a" stroke="#1a1a1a" xml:space="preserve">R=0.80, RMS= 6.7 mm/d, Bias= 451. mm</text><rect x="24.5" y="90.2" width="237.5" height="68.4" fill="none" stroke="#aaaaaa" stroke-width="1"/></g>
<g><rect x="273.3" y="90.2" width="248.3" height="68.4" fill="none" stroke="#aaaaaa" stroke-width="1"/><line x1="273.3" y1="148.5" x2="521.6" y2="148.5" stroke="#aaaaaa" stroke-width="1"/><text x="274.90" y="157.10" font-size="6.8" fill="#1a1a1a" stroke="#1a1a1a">Jan</text><line x1="294.39" y1="148.5" x2="294.39" y2="158.6" stroke="#aaaaaa" stroke-width="1"/><line x1="294.39" y1="90.2" x2="294.39" y2="91.7" stroke="#555" stroke-width="0.8"/><text x="295.99" y="157.10" font-size="6.8" fill="#1a1a1a" stroke="#1a1a1a">Feb</text><line x1="313.44" y1="148.5" x2="313.44" y2="158.6" stroke="#aaaaaa" stroke-width="1"/><line x1="313.44" y1="90.2" x2="313.44" y2="91.7" stroke="#555" stroke-width="0.8"/><text x="315.04" y="157.10" font-size="6.8" fill="#1a1a1a" stroke="#1a1a1a">Mar</text><line x1="334.52" y1="148.5" x2="334.52" y2="158.6" stroke="#aaaaaa" stroke-width="1"/><line x1="334.52" y1="90.2" x2="334.52" y2="91.7" stroke="#555" stroke-width="0.8"/><text x="336.12" y="157.10" font-size="6.8" fill="#1a1a1a" stroke="#1a1a1a">Apr</text><line x1="354.93" y1="148.5" x2="354.93" y2="158.6" stroke="#aaaaaa" stroke-width="1"/><line x1="354.93" y1="90.2" x2="354.93" y2="91.7" stroke="#555" stroke-width="0.8"/><text x="356.53" y="157.10" font-size="6.8" fill="#1a1a1a" stroke="#1a1a1a">May</text><line x1="376.02" y1="148.5" x2="376.02" y2="158.6" stroke="#aaaaaa" stroke-width="1"/><line x1="376.02" y1="90.2" x2="376.02" y2="91.7" stroke="#555" stroke-width="0.8"/><text x="377.62" y="157.10" font-size="6.8" fill="#1a1a1a" stroke="#1a1a1a">Jun</text><line x1="396.43" y1="148.5" x2="396.43" y2="158.6" stroke="#aaaaaa" stroke-width="1"/><line x1="396.43" y1="90.2" x2="396.43" y2="91.7" stroke="#555" stroke-width="0.8"/><text x="398.03" y="157.10" font-size="6.8" fill="#1a1a1a" stroke="#1a1a1a">Jul</text><line x1="417.52" y1="148.5" x2="417.52" y2="158.6" stroke="#aaaaaa" stroke-width="1"/><line x1="417.52" y1="90.2" x2="417.52" y2="91.7" stroke="#555" stroke-width="0.8"/><text x="419.12" y="157.10" font-size="6.8" fill="#1a1a1a" stroke="#1a1a1a">Aug</text><line x1="438.61" y1="148.5" x2="438.61" y2="158.6" stroke="#aaaaaa" stroke-width="1"/><line x1="438.61" y1="90.2" x2="438.61" y2="91.7" stroke="#555" stroke-width="0.8"/><text x="440.21" y="157.10" font-size="6.8" fill="#1a1a1a" stroke="#1a1a1a">Sep</text><line x1="459.01" y1="148.5" x2="459.01" y2="158.6" stroke="#aaaaaa" stroke-width="1"/><line x1="459.01" y1="90.2" x2="459.01" y2="91.7" stroke="#555" stroke-width="0.8"/><text x="460.61" y="157.10" font-size="6.8" fill="#1a1a1a" stroke="#1a1a1a">Oct</text><line x1="480.10" y1="148.5" x2="480.10" y2="158.6" stroke="#aaaaaa" stroke-width="1"/><line x1="480.10" y1="90.2" x2="480.10" y2="91.7" stroke="#555" stroke-width="0.8"/><text x="481.70" y="157.10" font-size="6.8" fill="#1a1a1a" stroke="#1a1a1a">Nov</text><line x1="500.51" y1="148.5" x2="500.51" y2="158.6" stroke="#aaaaaa" stroke-width="1"/><line x1="500.51" y1="90.2" x2="500.51" y2="91.7" stroke="#555" stroke-width="0.8"/><text x="502.11" y="157.10" font-size="6.8" fill="#1a1a1a" stroke="#1a1a1a">Dec</text><line x1="273.3" y1="133.93" x2="277.8" y2="133.93" stroke="#aaaaaa" stroke-width="1"/><line x1="517.1" y1="133.93" x2="521.6" y2="133.93" stroke="#aaaaaa" stroke-width="1"/><line x1="273.3" y1="119.35" x2="277.8" y2="119.35" stroke="#aaaaaa" stroke-width="1"/><line x1="517.1" y1="119.35" x2="521.6" y2="119.35" stroke="#aaaaaa" stroke-width="1"/><line x1="273.3" y1="104.78" x2="277.8" y2="104.78" stroke="#aaaaaa" stroke-width="1"/><line x1="517.1" y1="104.78" x2="521.6" y2="104.78" stroke="#aaaaaa" stroke-width="1"/><text x="271.20" y="149.20" font-size="6.8" text-anchor="end" fill="#1a1a1a" stroke="#1a1a1a">0</text><text x="271.20" y="136.33" font-size="6.8" text-anchor="end" fill="#1a1a1a" stroke="#1a1a1a">15</text><text x="271.20" y="121.75" font-size="6.8" text-anchor="end" fill="#1a1a1a" stroke="#1a1a1a">30</text><text x="271.20" y="107.18" font-size="6.8" text-anchor="end" fill="#1a1a1a" stroke="#1a1a1a">45</text><text x="271.20" y="94.30" font-size="6.8" text-anchor="end" fill="#1a1a1a" stroke="#1a1a1a">60</text><text x="523.60" y="149.20" font-size="6.8" fill="#1a1a1a" stroke="#1a1a1a">0</text><text x="523.60" y="136.33" font-size="6.8" fill="#1a1a1a" stroke="#1a1a1a">250</text><text x="523.60" y="121.75" font-size="6.8" fill="#1a1a1a" stroke="#1a1a1a">500</text><text x="523.60" y="107.18" font-size="6.8" fill="#1a1a1a" stroke="#1a1a1a">750</text><text x="523.60" y="94.30" font-size="6.8" fill="#1a1a1a" stroke="#1a1a1a">1000</text><text transform="translate(544.3,119.35) rotate(-90)" font-size="6.6" text-anchor="middle" fill="#1a1a1a" stroke="#1a1a1a">Annual Rainfall (mm)</text><clipPath id="cp11"><rect x="273.3" y="90.2" width="248.3" height="59.1"/></clipPath><g clip-path="url(#cp11)"><rect x="297.19" y="147.72" width="1.2" height="0.78" fill="#ababab"/><rect x="306.71" y="147.53" width="1.2" height="0.97" fill="#ababab"/><rect x="354.33" y="147.33" width="1.2" height="1.17" fill="#ababab"/><rect x="376.78" y="143.06" width="1.2" height="5.44" fill="#ababab"/><rect x="381.54" y="145.59" width="1.2" height="2.91" fill="#ababab"/><rect x="385.63" y="144.61" width="1.2" height="3.89" fill="#ababab"/><rect x="389.03" y="142.67" width="1.2" height="5.83" fill="#ababab"/><rect x="391.07" y="110.61" width="1.2" height="37.89" fill="#ababab"/><rect x="394.47" y="137.81" width="1.2" height="10.69" fill="#ababab"/><rect x="397.87" y="142.67" width="1.2" height="5.83" fill="#ababab"/><rect x="399.23" y="144.61" width="1.2" height="3.89" fill="#ababab"/><rect x="401.61" y="117.41" width="1.2" height="31.09" fill="#ababab"/><rect x="403.31" y="143.64" width="1.2" height="4.86" fill="#ababab"/><rect x="405.01" y="126.15" width="1.2" height="22.35" fill="#ababab"/><rect x="406.71" y="140.73" width="1.2" height="7.77" fill="#ababab"/><rect x="408.07" y="127.12" width="1.2" height="21.38" fill="#ababab"/><rect x="409.44" y="138.78" width="1.2" height="9.72" fill="#ababab"/><rect x="410.80" y="136.84" width="1.2" height="11.66" fill="#ababab"/><rect x="412.50" y="131.98" width="1.2" height="16.52" fill="#ababab"/><rect x="413.52" y="140.73" width="1.2" height="7.77" fill="#ababab"/><rect x="415.08" y="118.38" width="1.2" height="30.12" fill="#ababab"/><rect x="416.24" y="134.90" width="1.2" height="13.60" fill="#ababab"/><rect x="418.14" y="108.66" width="1.2" height="39.84" fill="#ababab"/><rect x="419.84" y="131.98" width="1.2" height="16.52" fill="#ababab"/><rect x="421.34" y="138.78" width="1.2" height="9.72" fill="#ababab"/><rect x="423.24" y="134.90" width="1.2" height="13.60" fill="#ababab"/><rect x="425.08" y="118.38" width="1.2" height="30.12" fill="#ababab"/><rect x="426.58" y="130.04" width="1.2" height="18.46" fill="#ababab"/><rect x="428.14" y="140.73" width="1.2" height="7.77" fill="#ababab"/><rect x="429.84" y="140.73" width="1.2" height="7.77" fill="#ababab"/><rect x="431.20" y="138.78" width="1.2" height="9.72" fill="#ababab"/><rect x="433.79" y="132.95" width="1.2" height="15.55" fill="#ababab"/><rect x="434.81" y="135.87" width="1.2" height="12.63" fill="#ababab"/><rect x="437.26" y="128.09" width="1.2" height="20.40" fill="#ababab"/><rect x="438.35" y="140.73" width="1.2" height="7.77" fill="#ababab"/><rect x="439.71" y="102.83" width="1.2" height="45.67" fill="#ababab"/><rect x="441.75" y="122.27" width="1.2" height="26.23" fill="#ababab"/><rect x="443.11" y="142.67" width="1.2" height="5.83" fill="#ababab"/><rect x="445.29" y="137.81" width="1.2" height="10.69" fill="#ababab"/><rect x="446.85" y="131.98" width="1.2" height="16.52" fill="#ababab"/><rect x="448.62" y="143.64" width="1.2" height="4.86" fill="#ababab"/><rect x="449.37" y="131.01" width="1.2" height="17.49" fill="#ababab"/><rect x="450.93" y="143.64" width="1.2" height="4.86" fill="#ababab"/><rect x="452.56" y="139.75" width="1.2" height="8.74" fill="#ababab"/><rect x="454.54" y="134.90" width="1.2" height="13.60" fill="#ababab"/><rect x="455.35" y="132.95" width="1.2" height="15.55" fill="#ababab"/><rect x="457.73" y="144.61" width="1.2" height="3.89" fill="#ababab"/><rect x="460.86" y="125.18" width="1.2" height="23.32" fill="#ababab"/><rect x="463.18" y="143.64" width="1.2" height="4.86" fill="#ababab"/><rect x="466.58" y="145.59" width="1.2" height="2.91" fill="#ababab"/><rect x="470.59" y="133.44" width="1.2" height="15.06" fill="#ababab"/><rect x="376.60" y="144.50" width="1.2" height="4.00" fill="#0000ff" fill-opacity="0.6"/><rect x="382.40" y="144.50" width="1.2" height="4.00" fill="#0000ff" fill-opacity="0.6"/><rect x="391.60" y="96.90" width="1.2" height="51.60" fill="#0000ff" fill-opacity="0.6"/><rect x="394.80" y="136.40" width="1.2" height="12.10" fill="#0000ff" fill-opacity="0.6"/><rect x="400.10" y="118.60" width="1.2" height="29.90" fill="#0000ff" fill-opacity="0.6"/><rect x="401.20" y="121.00" width="1.2" height="27.50" fill="#0000ff" fill-opacity="0.6"/><rect x="403.70" y="138.00" width="1.2" height="10.50" fill="#0000ff" fill-opacity="0.6"/><rect x="406.90" y="104.90" width="1.2" height="43.60" fill="#0000ff" fill-opacity="0.6"/><rect x="408.20" y="128.30" width="1.2" height="20.20" fill="#0000ff" fill-opacity="0.6"/><rect x="410.10" y="131.50" width="1.2" height="17.00" fill="#0000ff" fill-opacity="0.6"/><rect x="412.20" y="134.80" width="1.2" height="13.70" fill="#0000ff" fill-opacity="0.6"/><rect x="417.50" y="90.40" width="1.2" height="58.10" fill="#0000ff" fill-opacity="0.6"/><rect x="420.30" y="134.80" width="1.2" height="13.70" fill="#0000ff" fill-opacity="0.6"/><rect x="421.90" y="138.00" width="1.2" height="10.50" fill="#0000ff" fill-opacity="0.6"/><rect x="424.30" y="104.90" width="1.2" height="43.60" fill="#0000ff" fill-opacity="0.6"/><rect x="425.90" y="128.30" width="1.2" height="20.20" fill="#0000ff" fill-opacity="0.6"/><rect x="427.50" y="136.40" width="1.2" height="12.10" fill="#0000ff" fill-opacity="0.6"/><rect x="431.60" y="139.60" width="1.2" height="8.90" fill="#0000ff" fill-opacity="0.6"/><rect x="433.20" y="138.00" width="1.2" height="10.50" fill="#0000ff" fill-opacity="0.6"/><rect x="434.80" y="117.80" width="1.2" height="30.70" fill="#0000ff" fill-opacity="0.6"/><rect x="436.40" y="130.00" width="1.2" height="18.50" fill="#0000ff" fill-opacity="0.6"/><rect x="440.40" y="125.10" width="1.2" height="23.40" fill="#0000ff" fill-opacity="0.6"/><rect x="445.30" y="132.40" width="1.2" height="16.10" fill="#0000ff" fill-opacity="0.6"/><rect x="448.50" y="122.70" width="1.2" height="25.80" fill="#0000ff" fill-opacity="0.6"/><rect x="450.10" y="139.60" width="1.2" height="8.90" fill="#0000ff" fill-opacity="0.6"/><rect x="453.70" y="133.20" width="1.2" height="15.30" fill="#0000ff" fill-opacity="0.6"/><rect x="454.90" y="129.60" width="1.2" height="18.90" fill="#0000ff" fill-opacity="0.6"/><rect x="460.60" y="123.20" width="1.2" height="25.30" fill="#0000ff" fill-opacity="0.6"/><rect x="470.30" y="125.90" width="1.2" height="22.60" fill="#0000ff" fill-opacity="0.6"/><line x1="273.3" y1="148.5" x2="521.6" y2="148.5" stroke="#505050" stroke-width="1"/><line x1="273.3" y1="148.5" x2="516.2" y2="148.5" stroke="#0000ff" stroke-opacity="0.6" stroke-width="1"/><polyline points="273.30,148.50 384.86,148.50 389.97,147.80 392.35,146.17 395.75,145.59 400.72,143.25 407.18,139.93 413.57,136.72 418.47,132.06 421.67,129.55 426.50,127.22 431.40,125.18 437.93,122.85 441.12,119.06 444.32,117.31 446.97,116.96 452.89,115.62 459.42,114.69 462.62,114.10 469.90,113.35 521.60,113.35" fill="none" stroke="#a6a6a6" stroke-width="1"/><polyline points="273.30,148.50 391.00,148.50 392.20,145.30 396.20,144.50 400.20,141.20 404.30,139.60 409.10,137.20 412.30,134.80 416.80,131.50 421.70,126.70 426.50,121.90 433.00,119.50 439.40,115.40 445.90,112.20 452.30,109.80 454.40,108.60 456.00,107.40 460.10,107.00 461.70,105.70 469.70,105.40 471.40,104.10 521.60,104.10" fill="none" stroke="#0000ff" stroke-width="1.1"/></g><line x1="280.0" y1="99.7" x2="293.7" y2="99.7" stroke="#a8a8a8" stroke-width="1.5"/><text x="300.9" y="101.2" font-size="6.5" fill="#b4b4b4" stroke="#b4b4b4">In Situ</text><line x1="280.0" y1="109.7" x2="293.7" y2="109.7" stroke="#0000ff" stroke-width="1.6"/><text x="300.9" y="111.2" font-size="6.5" fill="#0000ff" stroke="#0000ff">CMORPH-Adj</text><text transform="translate(300.9,119.2) scale(1,1.12)" font-size="5.2" fill="#1a1a1a" stroke="#1a1a1a" xml:space="preserve">R=0.82, RMS= 4.3 mm/d, Bias= 152. mm</text><rect x="273.3" y="90.2" width="248.3" height="68.4" fill="none" stroke="#aaaaaa" stroke-width="1"/></g>
<g><rect x="24.5" y="164.3" width="237.5" height="68.2" fill="none" stroke="#aaaaaa" stroke-width="1"/><line x1="24.5" y1="222.5" x2="262.0" y2="222.5" stroke="#aaaaaa" stroke-width="1"/><text x="26.10" y="231.10" font-size="6.8" fill="#1a1a1a" stroke="#1a1a1a">Jan</text><line x1="44.67" y1="222.5" x2="44.67" y2="232.5" stroke="#aaaaaa" stroke-width="1"/><line x1="44.67" y1="164.3" x2="44.67" y2="165.8" stroke="#555" stroke-width="0.8"/><text x="46.27" y="231.10" font-size="6.8" fill="#1a1a1a" stroke="#1a1a1a">Feb</text><line x1="62.89" y1="222.5" x2="62.89" y2="232.5" stroke="#aaaaaa" stroke-width="1"/><line x1="62.89" y1="164.3" x2="62.89" y2="165.8" stroke="#555" stroke-width="0.8"/><text x="64.49" y="231.10" font-size="6.8" fill="#1a1a1a" stroke="#1a1a1a">Mar</text><line x1="83.06" y1="222.5" x2="83.06" y2="232.5" stroke="#aaaaaa" stroke-width="1"/><line x1="83.06" y1="164.3" x2="83.06" y2="165.8" stroke="#555" stroke-width="0.8"/><text x="84.66" y="231.10" font-size="6.8" fill="#1a1a1a" stroke="#1a1a1a">Apr</text><line x1="102.58" y1="222.5" x2="102.58" y2="232.5" stroke="#aaaaaa" stroke-width="1"/><line x1="102.58" y1="164.3" x2="102.58" y2="165.8" stroke="#555" stroke-width="0.8"/><text x="104.18" y="231.10" font-size="6.8" fill="#1a1a1a" stroke="#1a1a1a">May</text><line x1="122.75" y1="222.5" x2="122.75" y2="232.5" stroke="#aaaaaa" stroke-width="1"/><line x1="122.75" y1="164.3" x2="122.75" y2="165.8" stroke="#555" stroke-width="0.8"/><text x="124.35" y="231.10" font-size="6.8" fill="#1a1a1a" stroke="#1a1a1a">Jun</text><line x1="142.27" y1="222.5" x2="142.27" y2="232.5" stroke="#aaaaaa" stroke-width="1"/><line x1="142.27" y1="164.3" x2="142.27" y2="165.8" stroke="#555" stroke-width="0.8"/><text x="143.87" y="231.10" font-size="6.8" fill="#1a1a1a" stroke="#1a1a1a">Jul</text><line x1="162.45" y1="222.5" x2="162.45" y2="232.5" stroke="#aaaaaa" stroke-width="1"/><line x1="162.45" y1="164.3" x2="162.45" y2="165.8" stroke="#555" stroke-width="0.8"/><text x="164.05" y="231.10" font-size="6.8" fill="#1a1a1a" stroke="#1a1a1a">Aug</text><line x1="182.62" y1="222.5" x2="182.62" y2="232.5" stroke="#aaaaaa" stroke-width="1"/><line x1="182.62" y1="164.3" x2="182.62" y2="165.8" stroke="#555" stroke-width="0.8"/><text x="184.22" y="231.10" font-size="6.8" fill="#1a1a1a" stroke="#1a1a1a">Sep</text><line x1="202.14" y1="222.5" x2="202.14" y2="232.5" stroke="#aaaaaa" stroke-width="1"/><line x1="202.14" y1="164.3" x2="202.14" y2="165.8" stroke="#555" stroke-width="0.8"/><text x="203.74" y="231.10" font-size="6.8" fill="#1a1a1a" stroke="#1a1a1a">Oct</text><line x1="222.31" y1="222.5" x2="222.31" y2="232.5" stroke="#aaaaaa" stroke-width="1"/><line x1="222.31" y1="164.3" x2="222.31" y2="165.8" stroke="#555" stroke-width="0.8"/><text x="223.91" y="231.10" font-size="6.8" fill="#1a1a1a" stroke="#1a1a1a">Nov</text><line x1="241.83" y1="222.5" x2="241.83" y2="232.5" stroke="#aaaaaa" stroke-width="1"/><line x1="241.83" y1="164.3" x2="241.83" y2="165.8" stroke="#555" stroke-width="0.8"/><text x="243.43" y="231.10" font-size="6.8" fill="#1a1a1a" stroke="#1a1a1a">Dec</text><line x1="24.5" y1="207.95" x2="29.0" y2="207.95" stroke="#aaaaaa" stroke-width="1"/><line x1="257.5" y1="207.95" x2="262.0" y2="207.95" stroke="#aaaaaa" stroke-width="1"/><line x1="24.5" y1="193.40" x2="29.0" y2="193.40" stroke="#aaaaaa" stroke-width="1"/><line x1="257.5" y1="193.40" x2="262.0" y2="193.40" stroke="#aaaaaa" stroke-width="1"/><line x1="24.5" y1="178.85" x2="29.0" y2="178.85" stroke="#aaaaaa" stroke-width="1"/><line x1="257.5" y1="178.85" x2="262.0" y2="178.85" stroke="#aaaaaa" stroke-width="1"/><text x="23.20" y="223.20" font-size="6.8" text-anchor="end" fill="#1a1a1a" stroke="#1a1a1a">0</text><text x="23.20" y="210.35" font-size="6.8" text-anchor="end" fill="#1a1a1a" stroke="#1a1a1a">15</text><text x="23.20" y="195.80" font-size="6.8" text-anchor="end" fill="#1a1a1a" stroke="#1a1a1a">30</text><text x="23.20" y="181.25" font-size="6.8" text-anchor="end" fill="#1a1a1a" stroke="#1a1a1a">45</text><text x="23.20" y="168.40" font-size="6.8" text-anchor="end" fill="#1a1a1a" stroke="#1a1a1a">60</text><text transform="translate(10.6,193.40) rotate(-90)" font-size="6.6" text-anchor="middle" fill="#1a1a1a" stroke="#1a1a1a">Rainfall (mm/d)</text><clipPath id="cp20"><rect x="24.5" y="164.3" width="237.5" height="59.0"/></clipPath><g clip-path="url(#cp20)"><rect x="47.32" y="221.72" width="1.2" height="0.78" fill="#ababab"/><rect x="56.43" y="221.53" width="1.2" height="0.97" fill="#ababab"/><rect x="101.98" y="221.34" width="1.2" height="1.16" fill="#ababab"/><rect x="123.45" y="217.07" width="1.2" height="5.43" fill="#ababab"/><rect x="128.01" y="219.59" width="1.2" height="2.91" fill="#ababab"/><rect x="131.91" y="218.62" width="1.2" height="3.88" fill="#ababab"/><rect x="135.17" y="216.68" width="1.2" height="5.82" fill="#ababab"/><rect x="137.12" y="184.67" width="1.2" height="37.83" fill="#ababab"/><rect x="140.37" y="211.83" width="1.2" height="10.67" fill="#ababab"/><rect x="143.63" y="216.68" width="1.2" height="5.82" fill="#ababab"/><rect x="144.93" y="218.62" width="1.2" height="3.88" fill="#ababab"/><rect x="147.20" y="191.46" width="1.2" height="31.04" fill="#ababab"/><rect x="148.83" y="217.65" width="1.2" height="4.85" fill="#ababab"/><rect x="150.46" y="200.19" width="1.2" height="22.31" fill="#ababab"/><rect x="152.08" y="214.74" width="1.2" height="7.76" fill="#ababab"/><rect x="153.39" y="201.16" width="1.2" height="21.34" fill="#ababab"/><rect x="154.69" y="212.80" width="1.2" height="9.70" fill="#ababab"/><rect x="155.99" y="210.86" width="1.2" height="11.64" fill="#ababab"/><rect x="157.62" y="206.01" width="1.2" height="16.49" fill="#ababab"/><rect x="158.59" y="214.74" width="1.2" height="7.76" fill="#ababab"/><rect x="160.09" y="192.43" width="1.2" height="30.07" fill="#ababab"/><rect x="161.19" y="208.92" width="1.2" height="13.58" fill="#ababab"/><rect x="163.02" y="182.73" width="1.2" height="39.77" fill="#ababab"/><rect x="164.64" y="206.01" width="1.2" height="16.49" fill="#ababab"/><rect x="166.07" y="212.80" width="1.2" height="9.70" fill="#ababab"/><rect x="167.90" y="208.92" width="1.2" height="13.58" fill="#ababab"/><rect x="169.65" y="192.43" width="1.2" height="30.07" fill="#ababab"/><rect x="171.08" y="204.07" width="1.2" height="18.43" fill="#ababab"/><rect x="172.58" y="214.74" width="1.2" height="7.76" fill="#ababab"/><rect x="174.21" y="214.74" width="1.2" height="7.76" fill="#ababab"/><rect x="175.51" y="212.80" width="1.2" height="9.70" fill="#ababab"/><rect x="177.98" y="206.98" width="1.2" height="15.52" fill="#ababab"/><rect x="178.96" y="209.89" width="1.2" height="12.61" fill="#ababab"/><rect x="181.30" y="202.13" width="1.2" height="20.37" fill="#ababab"/><rect x="182.34" y="214.74" width="1.2" height="7.76" fill="#ababab"/><rect x="183.64" y="176.91" width="1.2" height="45.59" fill="#ababab"/><rect x="185.60" y="196.31" width="1.2" height="26.19" fill="#ababab"/><rect x="186.90" y="216.68" width="1.2" height="5.82" fill="#ababab"/><rect x="188.98" y="211.83" width="1.2" height="10.67" fill="#ababab"/><rect x="190.48" y="206.01" width="1.2" height="16.49" fill="#ababab"/><rect x="192.17" y="217.65" width="1.2" height="4.85" fill="#ababab"/><rect x="192.88" y="205.04" width="1.2" height="17.46" fill="#ababab"/><rect x="194.38" y="217.65" width="1.2" height="4.85" fill="#ababab"/><rect x="195.94" y="213.77" width="1.2" height="8.73" fill="#ababab"/><rect x="197.83" y="208.92" width="1.2" height="13.58" fill="#ababab"/><rect x="198.61" y="206.98" width="1.2" height="15.52" fill="#ababab"/><rect x="200.89" y="218.62" width="1.2" height="3.88" fill="#ababab"/><rect x="203.88" y="199.22" width="1.2" height="23.28" fill="#ababab"/><rect x="206.09" y="217.65" width="1.2" height="4.85" fill="#ababab"/><rect x="209.35" y="219.59" width="1.2" height="2.91" fill="#ababab"/><rect x="213.18" y="207.47" width="1.2" height="15.03" fill="#ababab"/><rect x="118.20" y="219.30" width="1.2" height="3.20" fill="#ff0000" fill-opacity="0.6"/><rect x="123.50" y="195.10" width="1.2" height="27.40" fill="#ff0000" fill-opacity="0.6"/><rect x="129.00" y="214.40" width="1.2" height="8.10" fill="#ff0000" fill-opacity="0.6"/><rect x="133.00" y="216.00" width="1.2" height="6.50" fill="#ff0000" fill-opacity="0.6"/><rect x="137.60" y="208.80" width="1.2" height="13.70" fill="#ff0000" fill-opacity="0.6"/><rect x="140.80" y="187.00" width="1.2" height="35.50" fill="#ff0000" fill-opacity="0.6"/><rect x="143.20" y="213.90" width="1.2" height="8.60" fill="#ff0000" fill-opacity="0.6"/><rect x="145.60" y="172.50" width="1.2" height="50.00" fill="#ff0000" fill-opacity="0.6"/><rect x="146.80" y="178.10" width="1.2" height="44.40" fill="#ff0000" fill-opacity="0.6"/><rect x="148.00" y="194.30" width="1.2" height="28.20" fill="#ff0000" fill-opacity="0.6"/><rect x="150.50" y="204.00" width="1.2" height="18.50" fill="#ff0000" fill-opacity="0.6"/><rect x="152.10" y="195.90" width="1.2" height="26.60" fill="#ff0000" fill-opacity="0.6"/><rect x="153.70" y="164.40" width="1.2" height="58.10" fill="#ff0000" fill-opacity="0.6"/><rect x="156.10" y="210.40" width="1.2" height="12.10" fill="#ff0000" fill-opacity="0.6"/><rect x="158.20" y="210.40" width="1.2" height="12.10" fill="#ff0000" fill-opacity="0.6"/><rect x="163.00" y="164.40" width="1.2" height="58.10" fill="#ff0000" fill-opacity="0.6"/><rect x="165.10" y="181.40" width="1.2" height="41.10" fill="#ff0000" fill-opacity="0.6"/><rect x="166.80" y="210.40" width="1.2" height="12.10" fill="#ff0000" fill-opacity="0.6"/><rect x="168.70" y="164.40" width="1.2" height="58.10" fill="#ff0000" fill-opacity="0.6"/><rect x="170.00" y="181.40" width="1.2" height="41.10" fill="#ff0000" fill-opacity="0.6"/><rect x="171.60" y="194.30" width="1.2" height="28.20" fill="#ff0000" fill-opacity="0.6"/><rect x="173.00" y="194.30" width="1.2" height="28.20" fill="#ff0000" fill-opacity="0.6"/><rect x="176.80" y="195.10" width="1.2" height="27.40" fill="#ff0000" fill-opacity="0.6"/><rect x="178.00" y="197.50" width="1.2" height="25.00" fill="#ff0000" fill-opacity="0.6"/><rect x="180.00" y="207.20" width="1.2" height="15.30" fill="#ff0000" fill-opacity="0.6"/><rect x="181.60" y="215.20" width="1.2" height="7.30" fill="#ff0000" fill-opacity="0.6"/><rect x="186.10" y="187.00" width="1.2" height="35.50" fill="#ff0000" fill-opacity="0.6"/><rect x="187.20" y="197.50" width="1.2" height="25.00" fill="#ff0000" fill-opacity="0.6"/><rect x="189.30" y="210.40" width="1.2" height="12.10" fill="#ff0000" fill-opacity="0.6"/><rect x="192.60" y="198.30" width="1.2" height="24.20" fill="#ff0000" fill-opacity="0.6"/><rect x="195.30" y="216.80" width="1.2" height="5.70" fill="#ff0000" fill-opacity="0.6"/><rect x="197.30" y="210.40" width="1.2" height="12.10" fill="#ff0000" fill-opacity="0.6"/><rect x="199.00" y="181.40" width="1.2" height="41.10" fill="#ff0000" fill-opacity="0.6"/><rect x="203.90" y="164.40" width="1.2" height="58.10" fill="#ff0000" fill-opacity="0.6"/><rect x="212.80" y="185.40" width="1.2" height="37.10" fill="#ff0000" fill-opacity="0.6"/><line x1="24.5" y1="222.5" x2="262.0" y2="222.5" stroke="#505050" stroke-width="1"/><line x1="24.5" y1="222.5" x2="256.8" y2="222.5" stroke="#ff0000" stroke-opacity="0.6" stroke-width="1"/><polyline points="24.50,222.50 131.21,222.50 136.09,221.80 138.37,220.17 141.62,219.59 146.37,217.26 152.55,213.94 158.67,210.74 163.36,206.09 166.41,203.59 171.03,201.26 175.72,199.22 181.97,196.89 185.02,193.11 188.08,191.36 190.62,191.01 196.28,189.68 202.53,188.74 205.59,188.16 212.55,187.41 262.00,187.41" fill="none" stroke="#a6a6a6" stroke-width="1"/><polyline points="24.50,222.50 110.00,222.50 123.10,220.60 138.40,219.30 142.70,217.60 144.90,214.40 147.10,209.00 149.30,206.70 153.60,204.50 154.70,199.60 160.20,195.20 166.70,191.20 168.90,186.30 173.30,182.30 179.80,178.80 186.40,173.60 192.90,169.40 197.30,167.30 199.50,165.00 204.60,165.00 204.70,140.00 262.00,140.00" fill="none" stroke="#ff0000" stroke-width="1.1"/></g><line x1="30.9" y1="173.8" x2="44.0" y2="173.8" stroke="#a8a8a8" stroke-width="1.5"/><text x="50.9" y="175.3" font-size="6.5" fill="#b4b4b4" stroke="#b4b4b4">In Situ</text><line x1="30.9" y1="183.8" x2="44.0" y2="183.8" stroke="#ff0000" stroke-width="1.6"/><text x="50.9" y="185.3" font-size="6.5" fill="#ff0000" stroke="#ff0000">TRMM-Raw</text><text transform="translate(50.9,193.3) scale(1,1.12)" font-size="5.2" fill="#1a1a1a" stroke="#1a1a1a" xml:space="preserve">R=0.75, RMS= 6.9 mm/d, Bias= 489. mm</text><rect x="24.5" y="164.3" width="237.5" height="68.2" fill="none" stroke="#aaaaaa" stroke-width="1"/></g>
<g><rect x="273.3" y="164.3" width="248.3" height="68.2" fill="none" stroke="#aaaaaa" stroke-width="1"/><line x1="273.3" y1="222.5" x2="521.6" y2="222.5" stroke="#aaaaaa" stroke-width="1"/><text x="274.90" y="231.10" font-size="6.8" fill="#1a1a1a" stroke="#1a1a1a">Jan</text><line x1="294.39" y1="222.5" x2="294.39" y2="232.5" stroke="#aaaaaa" stroke-width="1"/><line x1="294.39" y1="164.3" x2="294.39" y2="165.8" stroke="#555" stroke-width="0.8"/><text x="295.99" y="231.10" font-size="6.8" fill="#1a1a1a" stroke="#1a1a1a">Feb</text><line x1="313.44" y1="222.5" x2="313.44" y2="232.5" stroke="#aaaaaa" stroke-width="1"/><line x1="313.44" y1="164.3" x2="313.44" y2="165.8" stroke="#555" stroke-width="0.8"/><text x="315.04" y="231.10" font-size="6.8" fill="#1a1a1a" stroke="#1a1a1a">Mar</text><line x1="334.52" y1="222.5" x2="334.52" y2="232.5" stroke="#aaaaaa" stroke-width="1"/><line x1="334.52" y1="164.3" x2="334.52" y2="165.8" stroke="#555" stroke-width="0.8"/><text x="336.12" y="231.10" font-size="6.8" fill="#1a1a1a" stroke="#1a1a1a">Apr</text><line x1="354.93" y1="222.5" x2="354.93" y2="232.5" stroke="#aaaaaa" stroke-width="1"/><line x1="354.93" y1="164.3" x2="354.93" y2="165.8" stroke="#555" stroke-width="0.8"/><text x="356.53" y="231.10" font-size="6.8" fill="#1a1a1a" stroke="#1a1a1a">May</text><line x1="376.02" y1="222.5" x2="376.02" y2="232.5" stroke="#aaaaaa" stroke-width="1"/><line x1="376.02" y1="164.3" x2="376.02" y2="165.8" stroke="#555" stroke-width="0.8"/><text x="377.62" y="231.10" font-size="6.8" fill="#1a1a1a" stroke="#1a1a1a">Jun</text><line x1="396.43" y1="222.5" x2="396.43" y2="232.5" stroke="#aaaaaa" stroke-width="1"/><line x1="396.43" y1="164.3" x2="396.43" y2="165.8" stroke="#555" stroke-width="0.8"/><text x="398.03" y="231.10" font-size="6.8" fill="#1a1a1a" stroke="#1a1a1a">Jul</text><line x1="417.52" y1="222.5" x2="417.52" y2="232.5" stroke="#aaaaaa" stroke-width="1"/><line x1="417.52" y1="164.3" x2="417.52" y2="165.8" stroke="#555" stroke-width="0.8"/><text x="419.12" y="231.10" font-size="6.8" fill="#1a1a1a" stroke="#1a1a1a">Aug</text><line x1="438.61" y1="222.5" x2="438.61" y2="232.5" stroke="#aaaaaa" stroke-width="1"/><line x1="438.61" y1="164.3" x2="438.61" y2="165.8" stroke="#555" stroke-width="0.8"/><text x="440.21" y="231.10" font-size="6.8" fill="#1a1a1a" stroke="#1a1a1a">Sep</text><line x1="459.01" y1="222.5" x2="459.01" y2="232.5" stroke="#aaaaaa" stroke-width="1"/><line x1="459.01" y1="164.3" x2="459.01" y2="165.8" stroke="#555" stroke-width="0.8"/><text x="460.61" y="231.10" font-size="6.8" fill="#1a1a1a" stroke="#1a1a1a">Oct</text><line x1="480.10" y1="222.5" x2="480.10" y2="232.5" stroke="#aaaaaa" stroke-width="1"/><line x1="480.10" y1="164.3" x2="480.10" y2="165.8" stroke="#555" stroke-width="0.8"/><text x="481.70" y="231.10" font-size="6.8" fill="#1a1a1a" stroke="#1a1a1a">Nov</text><line x1="500.51" y1="222.5" x2="500.51" y2="232.5" stroke="#aaaaaa" stroke-width="1"/><line x1="500.51" y1="164.3" x2="500.51" y2="165.8" stroke="#555" stroke-width="0.8"/><text x="502.11" y="231.10" font-size="6.8" fill="#1a1a1a" stroke="#1a1a1a">Dec</text><line x1="273.3" y1="207.95" x2="277.8" y2="207.95" stroke="#aaaaaa" stroke-width="1"/><line x1="517.1" y1="207.95" x2="521.6" y2="207.95" stroke="#aaaaaa" stroke-width="1"/><line x1="273.3" y1="193.40" x2="277.8" y2="193.40" stroke="#aaaaaa" stroke-width="1"/><line x1="517.1" y1="193.40" x2="521.6" y2="193.40" stroke="#aaaaaa" stroke-width="1"/><line x1="273.3" y1="178.85" x2="277.8" y2="178.85" stroke="#aaaaaa" stroke-width="1"/><line x1="517.1" y1="178.85" x2="521.6" y2="178.85" stroke="#aaaaaa" stroke-width="1"/><text x="271.20" y="223.20" font-size="6.8" text-anchor="end" fill="#1a1a1a" stroke="#1a1a1a">0</text><text x="271.20" y="210.35" font-size="6.8" text-anchor="end" fill="#1a1a1a" stroke="#1a1a1a">15</text><text x="271.20" y="195.80" font-size="6.8" text-anchor="end" fill="#1a1a1a" stroke="#1a1a1a">30</text><text x="271.20" y="181.25" font-size="6.8" text-anchor="end" fill="#1a1a1a" stroke="#1a1a1a">45</text><text x="271.20" y="168.40" font-size="6.8" text-anchor="end" fill="#1a1a1a" stroke="#1a1a1a">60</text><text x="523.60" y="223.20" font-size="6.8" fill="#1a1a1a" stroke="#1a1a1a">0</text><text x="523.60" y="210.35" font-size="6.8" fill="#1a1a1a" stroke="#1a1a1a">250</text><text x="523.60" y="195.80" font-size="6.8" fill="#1a1a1a" stroke="#1a1a1a">500</text><text x="523.60" y="181.25" font-size="6.8" fill="#1a1a1a" stroke="#1a1a1a">750</text><text x="523.60" y="168.40" font-size="6.8" fill="#1a1a1a" stroke="#1a1a1a">1000</text><text transform="translate(544.3,193.40) rotate(-90)" font-size="6.6" text-anchor="middle" fill="#1a1a1a" stroke="#1a1a1a">Annual Rainfall (mm)</text><clipPath id="cp21"><rect x="273.3" y="164.3" width="248.3" height="59.0"/></clipPath><g clip-path="url(#cp21)"><rect x="297.19" y="221.72" width="1.2" height="0.78" fill="#ababab"/><rect x="306.71" y="221.53" width="1.2" height="0.97" fill="#ababab"/><rect x="354.33" y="221.34" width="1.2" height="1.16" fill="#ababab"/><rect x="376.78" y="217.07" width="1.2" height="5.43" fill="#ababab"/><rect x="381.54" y="219.59" width="1.2" height="2.91" fill="#ababab"/><rect x="385.63" y="218.62" width="1.2" height="3.88" fill="#ababab"/><rect x="389.03" y="216.68" width="1.2" height="5.82" fill="#ababab"/><rect x="391.07" y="184.67" width="1.2" height="37.83" fill="#ababab"/><rect x="394.47" y="211.83" width="1.2" height="10.67" fill="#ababab"/><rect x="397.87" y="216.68" width="1.2" height="5.82" fill="#ababab"/><rect x="399.23" y="218.62" width="1.2" height="3.88" fill="#ababab"/><rect x="401.61" y="191.46" width="1.2" height="31.04" fill="#ababab"/><rect x="403.31" y="217.65" width="1.2" height="4.85" fill="#ababab"/><rect x="405.01" y="200.19" width="1.2" height="22.31" fill="#ababab"/><rect x="406.71" y="214.74" width="1.2" height="7.76" fill="#ababab"/><rect x="408.07" y="201.16" width="1.2" height="21.34" fill="#ababab"/><rect x="409.44" y="212.80" width="1.2" height="9.70" fill="#ababab"/><rect x="410.80" y="210.86" width="1.2" height="11.64" fill="#ababab"/><rect x="412.50" y="206.01" width="1.2" height="16.49" fill="#ababab"/><rect x="413.52" y="214.74" width="1.2" height="7.76" fill="#ababab"/><rect x="415.08" y="192.43" width="1.2" height="30.07" fill="#ababab"/><rect x="416.24" y="208.92" width="1.2" height="13.58" fill="#ababab"/><rect x="418.14" y="182.73" width="1.2" height="39.77" fill="#ababab"/><rect x="419.84" y="206.01" width="1.2" height="16.49" fill="#ababab"/><rect x="421.34" y="212.80" width="1.2" height="9.70" fill="#ababab"/><rect x="423.24" y="208.92" width="1.2" height="13.58" fill="#ababab"/><rect x="425.08" y="192.43" width="1.2" height="30.07" fill="#ababab"/><rect x="426.58" y="204.07" width="1.2" height="18.43" fill="#ababab"/><rect x="428.14" y="214.74" width="1.2" height="7.76" fill="#ababab"/><rect x="429.84" y="214.74" width="1.2" height="7.76" fill="#ababab"/><rect x="431.20" y="212.80" width="1.2" height="9.70" fill="#ababab"/><rect x="433.79" y="206.98" width="1.2" height="15.52" fill="#ababab"/><rect x="434.81" y="209.89" width="1.2" height="12.61" fill="#ababab"/><rect x="437.26" y="202.13" width="1.2" height="20.37" fill="#ababab"/><rect x="438.35" y="214.74" width="1.2" height="7.76" fill="#ababab"/><rect x="439.71" y="176.91" width="1.2" height="45.59" fill="#ababab"/><rect x="441.75" y="196.31" width="1.2" height="26.19" fill="#ababab"/><rect x="443.11" y="216.68" width="1.2" height="5.82" fill="#ababab"/><rect x="445.29" y="211.83" width="1.2" height="10.67" fill="#ababab"/><rect x="446.85" y="206.01" width="1.2" height="16.49" fill="#ababab"/><rect x="448.62" y="217.65" width="1.2" height="4.85" fill="#ababab"/><rect x="449.37" y="205.04" width="1.2" height="17.46" fill="#ababab"/><rect x="450.93" y="217.65" width="1.2" height="4.85" fill="#ababab"/><rect x="452.56" y="213.77" width="1.2" height="8.73" fill="#ababab"/><rect x="454.54" y="208.92" width="1.2" height="13.58" fill="#ababab"/><rect x="455.35" y="206.98" width="1.2" height="15.52" fill="#ababab"/><rect x="457.73" y="218.62" width="1.2" height="3.88" fill="#ababab"/><rect x="460.86" y="199.22" width="1.2" height="23.28" fill="#ababab"/><rect x="463.18" y="217.65" width="1.2" height="4.85" fill="#ababab"/><rect x="466.58" y="219.59" width="1.2" height="2.91" fill="#ababab"/><rect x="470.59" y="207.47" width="1.2" height="15.03" fill="#ababab"/><rect x="376.20" y="208.80" width="1.2" height="13.70" fill="#ff0000" fill-opacity="0.6"/><rect x="381.90" y="217.60" width="1.2" height="4.90" fill="#ff0000" fill-opacity="0.6"/><rect x="386.40" y="216.80" width="1.2" height="5.70" fill="#ff0000" fill-opacity="0.6"/><rect x="391.10" y="206.40" width="1.2" height="16.10" fill="#ff0000" fill-opacity="0.6"/><rect x="394.50" y="203.10" width="1.2" height="19.40" fill="#ff0000" fill-opacity="0.6"/><rect x="400.40" y="193.50" width="1.2" height="29.00" fill="#ff0000" fill-opacity="0.6"/><rect x="401.20" y="194.30" width="1.2" height="28.20" fill="#ff0000" fill-opacity="0.6"/><rect x="402.90" y="208.80" width="1.2" height="13.70" fill="#ff0000" fill-opacity="0.6"/><rect x="406.60" y="198.30" width="1.2" height="24.20" fill="#ff0000" fill-opacity="0.6"/><rect x="408.20" y="187.80" width="1.2" height="34.70" fill="#ff0000" fill-opacity="0.6"/><rect x="410.10" y="210.40" width="1.2" height="12.10" fill="#ff0000" fill-opacity="0.6"/><rect x="412.20" y="215.20" width="1.2" height="7.30" fill="#ff0000" fill-opacity="0.6"/><rect x="413.00" y="216.80" width="1.2" height="5.70" fill="#ff0000" fill-opacity="0.6"/><rect x="417.50" y="185.40" width="1.2" height="37.10" fill="#ff0000" fill-opacity="0.6"/><rect x="419.10" y="207.20" width="1.2" height="15.30" fill="#ff0000" fill-opacity="0.6"/><rect x="420.80" y="210.40" width="1.2" height="12.10" fill="#ff0000" fill-opacity="0.6"/><rect x="424.30" y="185.40" width="1.2" height="37.10" fill="#ff0000" fill-opacity="0.6"/><rect x="425.90" y="205.50" width="1.2" height="17.00" fill="#ff0000" fill-opacity="0.6"/><rect x="427.50" y="206.40" width="1.2" height="16.10" fill="#ff0000" fill-opacity="0.6"/><rect x="432.40" y="204.70" width="1.2" height="17.80" fill="#ff0000" fill-opacity="0.6"/><rect x="434.80" y="206.40" width="1.2" height="16.10" fill="#ff0000" fill-opacity="0.6"/><rect x="436.40" y="212.00" width="1.2" height="10.50" fill="#ff0000" fill-opacity="0.6"/><rect x="441.20" y="200.70" width="1.2" height="21.80" fill="#ff0000" fill-opacity="0.6"/><rect x="445.30" y="212.80" width="1.2" height="9.70" fill="#ff0000" fill-opacity="0.6"/><rect x="448.80" y="204.70" width="1.2" height="17.80" fill="#ff0000" fill-opacity="0.6"/><rect x="453.70" y="195.90" width="1.2" height="26.60" fill="#ff0000" fill-opacity="0.6"/><rect x="454.90" y="197.50" width="1.2" height="25.00" fill="#ff0000" fill-opacity="0.6"/><rect x="460.60" y="185.90" width="1.2" height="36.60" fill="#ff0000" fill-opacity="0.6"/><rect x="470.30" y="197.50" width="1.2" height="25.00" fill="#ff0000" fill-opacity="0.6"/><line x1="273.3" y1="222.5" x2="521.6" y2="222.5" stroke="#505050" stroke-width="1"/><line x1="273.3" y1="222.5" x2="516.2" y2="222.5" stroke="#ff0000" stroke-opacity="0.6" stroke-width="1"/><polyline points="273.30,222.50 384.86,222.50 389.97,221.80 392.35,220.17 395.75,219.59 400.72,217.26 407.18,213.94 413.57,210.74 418.47,206.09 421.67,203.59 426.50,201.26 431.40,199.22 437.93,196.89 441.12,193.11 444.32,191.36 446.97,191.01 452.89,189.68 459.42,188.74 462.62,188.16 469.90,187.41 521.60,187.41" fill="none" stroke="#a6a6a6" stroke-width="1"/><polyline points="273.30,222.50 376.00,222.50 377.00,221.70 392.90,220.10 396.20,219.30 400.20,217.60 401.80,215.20 405.90,213.60 409.10,211.20 416.00,208.00 418.50,206.40 424.90,202.30 429.70,200.70 434.60,199.10 439.40,196.70 444.30,194.30 450.70,192.60 455.20,191.80 456.00,191.00 460.90,190.70 461.70,188.60 469.70,188.30 471.40,187.30 521.60,187.30" fill="none" stroke="#ff0000" stroke-width="1.1"/></g><line x1="280.0" y1="173.8" x2="293.7" y2="173.8" stroke="#a8a8a8" stroke-width="1.5"/><text x="300.9" y="175.3" font-size="6.5" fill="#b4b4b4" stroke="#b4b4b4">In Situ</text><line x1="280.0" y1="183.8" x2="293.7" y2="183.8" stroke="#ff0000" stroke-width="1.6"/><text x="300.9" y="185.3" font-size="6.5" fill="#ff0000" stroke="#ff0000">TRMM-Adj</text><text transform="translate(300.9,193.3) scale(1,1.12)" font-size="5.2" fill="#1a1a1a" stroke="#1a1a1a" xml:space="preserve">R=0.75, RMS= 4.1 mm/d, Bias=   1. mm</text><rect x="273.3" y="164.3" width="248.3" height="68.2" fill="none" stroke="#aaaaaa" stroke-width="1"/></g>
<g><rect x="24.5" y="238.5" width="237.5" height="68.2" fill="none" stroke="#aaaaaa" stroke-width="1"/><line x1="24.5" y1="296.7" x2="262.0" y2="296.7" stroke="#aaaaaa" stroke-width="1"/><text x="26.10" y="305.30" font-size="6.8" fill="#1a1a1a" stroke="#1a1a1a">Jan</text><line x1="44.67" y1="296.7" x2="44.67" y2="306.7" stroke="#aaaaaa" stroke-width="1"/><line x1="44.67" y1="238.5" x2="44.67" y2="240.0" stroke="#555" stroke-width="0.8"/><text x="46.27" y="305.30" font-size="6.8" fill="#1a1a1a" stroke="#1a1a1a">Feb</text><line x1="62.89" y1="296.7" x2="62.89" y2="306.7" stroke="#aaaaaa" stroke-width="1"/><line x1="62.89" y1="238.5" x2="62.89" y2="240.0" stroke="#555" stroke-width="0.8"/><text x="64.49" y="305.30" font-size="6.8" fill="#1a1a1a" stroke="#1a1a1a">Mar</text><line x1="83.06" y1="296.7" x2="83.06" y2="306.7" stroke="#aaaaaa" stroke-width="1"/><line x1="83.06" y1="238.5" x2="83.06" y2="240.0" stroke="#555" stroke-width="0.8"/><text x="84.66" y="305.30" font-size="6.8" fill="#1a1a1a" stroke="#1a1a1a">Apr</text><line x1="102.58" y1="296.7" x2="102.58" y2="306.7" stroke="#aaaaaa" stroke-width="1"/><line x1="102.58" y1="238.5" x2="102.58" y2="240.0" stroke="#555" stroke-width="0.8"/><text x="104.18" y="305.30" font-size="6.8" fill="#1a1a1a" stroke="#1a1a1a">May</text><line x1="122.75" y1="296.7" x2="122.75" y2="306.7" stroke="#aaaaaa" stroke-width="1"/><line x1="122.75" y1="238.5" x2="122.75" y2="240.0" stroke="#555" stroke-width="0.8"/><text x="124.35" y="305.30" font-size="6.8" fill="#1a1a1a" stroke="#1a1a1a">Jun</text><line x1="142.27" y1="296.7" x2="142.27" y2="306.7" stroke="#aaaaaa" stroke-width="1"/><line x1="142.27" y1="238.5" x2="142.27" y2="240.0" stroke="#555" stroke-width="0.8"/><text x="143.87" y="305.30" font-size="6.8" fill="#1a1a1a" stroke="#1a1a1a">Jul</text><line x1="162.45" y1="296.7" x2="162.45" y2="306.7" stroke="#aaaaaa" stroke-width="1"/><line x1="162.45" y1="238.5" x2="162.45" y2="240.0" stroke="#555" stroke-width="0.8"/><text x="164.05" y="305.30" font-size="6.8" fill="#1a1a1a" stroke="#1a1a1a">Aug</text><line x1="182.62" y1="296.7" x2="182.62" y2="306.7" stroke="#aaaaaa" stroke-width="1"/><line x1="182.62" y1="238.5" x2="182.62" y2="240.0" stroke="#555" stroke-width="0.8"/><text x="184.22" y="305.30" font-size="6.8" fill="#1a1a1a" stroke="#1a1a1a">Sep</text><line x1="202.14" y1="296.7" x2="202.14" y2="306.7" stroke="#aaaaaa" stroke-width="1"/><line x1="202.14" y1="238.5" x2="202.14" y2="240.0" stroke="#555" stroke-width="0.8"/><text x="203.74" y="305.30" font-size="6.8" fill="#1a1a1a" stroke="#1a1a1a">Oct</text><line x1="222.31" y1="296.7" x2="222.31" y2="306.7" stroke="#aaaaaa" stroke-width="1"/><line x1="222.31" y1="238.5" x2="222.31" y2="240.0" stroke="#555" stroke-width="0.8"/><text x="223.91" y="305.30" font-size="6.8" fill="#1a1a1a" stroke="#1a1a1a">Nov</text><line x1="241.83" y1="296.7" x2="241.83" y2="306.7" stroke="#aaaaaa" stroke-width="1"/><line x1="241.83" y1="238.5" x2="241.83" y2="240.0" stroke="#555" stroke-width="0.8"/><text x="243.43" y="305.30" font-size="6.8" fill="#1a1a1a" stroke="#1a1a1a">Dec</text><line x1="24.5" y1="282.15" x2="29.0" y2="282.15" stroke="#aaaaaa" stroke-width="1"/><line x1="257.5" y1="282.15" x2="262.0" y2="282.15" stroke="#aaaaaa" stroke-width="1"/><line x1="24.5" y1="267.60" x2="29.0" y2="267.60" stroke="#aaaaaa" stroke-width="1"/><line x1="257.5" y1="267.60" x2="262.0" y2="267.60" stroke="#aaaaaa" stroke-width="1"/><line x1="24.5" y1="253.05" x2="29.0" y2="253.05" stroke="#aaaaaa" stroke-width="1"/><line x1="257.5" y1="253.05" x2="262.0" y2="253.05" stroke="#aaaaaa" stroke-width="1"/><text x="23.20" y="297.40" font-size="6.8" text-anchor="end" fill="#1a1a1a" stroke="#1a1a1a">0</text><text x="23.20" y="284.55" font-size="6.8" text-anchor="end" fill="#1a1a1a" stroke="#1a1a1a">15</text><text x="23.20" y="270.00" font-size="6.8" text-anchor="end" fill="#1a1a1a" stroke="#1a1a1a">30</text><text x="23.20" y="255.45" font-size="6.8" text-anchor="end" fill="#1a1a1a" stroke="#1a1a1a">45</text><text x="23.20" y="242.60" font-size="6.8" text-anchor="end" fill="#1a1a1a" stroke="#1a1a1a">60</text><text transform="translate(10.6,267.60) rotate(-90)" font-size="6.6" text-anchor="middle" fill="#1a1a1a" stroke="#1a1a1a">Rainfall (mm/d)</text><clipPath id="cp30"><rect x="24.5" y="238.5" width="237.5" height="59.0"/></clipPath><g clip-path="url(#cp30)"><rect x="47.32" y="295.92" width="1.2" height="0.78" fill="#ababab"/><rect x="56.43" y="295.73" width="1.2" height="0.97" fill="#ababab"/><rect x="101.98" y="295.54" width="1.2" height="1.16" fill="#ababab"/><rect x="123.45" y="291.27" width="1.2" height="5.43" fill="#ababab"/><rect x="128.01" y="293.79" width="1.2" height="2.91" fill="#ababab"/><rect x="131.91" y="292.82" width="1.2" height="3.88" fill="#ababab"/><rect x="135.17" y="290.88" width="1.2" height="5.82" fill="#ababab"/><rect x="137.12" y="258.87" width="1.2" height="37.83" fill="#ababab"/><rect x="140.37" y="286.03" width="1.2" height="10.67" fill="#ababab"/><rect x="143.63" y="290.88" width="1.2" height="5.82" fill="#ababab"/><rect x="144.93" y="292.82" width="1.2" height="3.88" fill="#ababab"/><rect x="147.20" y="265.66" width="1.2" height="31.04" fill="#ababab"/><rect x="148.83" y="291.85" width="1.2" height="4.85" fill="#ababab"/><rect x="150.46" y="274.39" width="1.2" height="22.31" fill="#ababab"/><rect x="152.08" y="288.94" width="1.2" height="7.76" fill="#ababab"/><rect x="153.39" y="275.36" width="1.2" height="21.34" fill="#ababab"/><rect x="154.69" y="287.00" width="1.2" height="9.70" fill="#ababab"/><rect x="155.99" y="285.06" width="1.2" height="11.64" fill="#ababab"/><rect x="157.62" y="280.21" width="1.2" height="16.49" fill="#ababab"/><rect x="158.59" y="288.94" width="1.2" height="7.76" fill="#ababab"/><rect x="160.09" y="266.63" width="1.2" height="30.07" fill="#ababab"/><rect x="161.19" y="283.12" width="1.2" height="13.58" fill="#ababab"/><rect x="163.02" y="256.93" width="1.2" height="39.77" fill="#ababab"/><rect x="164.64" y="280.21" width="1.2" height="16.49" fill="#ababab"/><rect x="166.07" y="287.00" width="1.2" height="9.70" fill="#ababab"/><rect x="167.90" y="283.12" width="1.2" height="13.58" fill="#ababab"/><rect x="169.65" y="266.63" width="1.2" height="30.07" fill="#ababab"/><rect x="171.08" y="278.27" width="1.2" height="18.43" fill="#ababab"/><rect x="172.58" y="288.94" width="1.2" height="7.76" fill="#ababab"/><rect x="174.21" y="288.94" width="1.2" height="7.76" fill="#ababab"/><rect x="175.51" y="287.00" width="1.2" height="9.70" fill="#ababab"/><rect x="177.98" y="281.18" width="1.2" height="15.52" fill="#ababab"/><rect x="178.96" y="284.09" width="1.2" height="12.61" fill="#ababab"/><rect x="181.30" y="276.33" width="1.2" height="20.37" fill="#ababab"/><rect x="182.34" y="288.94" width="1.2" height="7.76" fill="#ababab"/><rect x="183.64" y="251.11" width="1.2" height="45.59" fill="#ababab"/><rect x="185.60" y="270.51" width="1.2" height="26.19" fill="#ababab"/><rect x="186.90" y="290.88" width="1.2" height="5.82" fill="#ababab"/><rect x="188.98" y="286.03" width="1.2" height="10.67" fill="#ababab"/><rect x="190.48" y="280.21" width="1.2" height="16.49" fill="#ababab"/><rect x="192.17" y="291.85" width="1.2" height="4.85" fill="#ababab"/><rect x="192.88" y="279.24" width="1.2" height="17.46" fill="#ababab"/><rect x="194.38" y="291.85" width="1.2" height="4.85" fill="#ababab"/><rect x="195.94" y="287.97" width="1.2" height="8.73" fill="#ababab"/><rect x="197.83" y="283.12" width="1.2" height="13.58" fill="#ababab"/><rect x="198.61" y="281.18" width="1.2" height="15.52" fill="#ababab"/><rect x="200.89" y="292.82" width="1.2" height="3.88" fill="#ababab"/><rect x="203.88" y="273.42" width="1.2" height="23.28" fill="#ababab"/><rect x="206.09" y="291.85" width="1.2" height="4.85" fill="#ababab"/><rect x="209.35" y="293.79" width="1.2" height="2.91" fill="#ababab"/><rect x="213.18" y="281.66" width="1.2" height="15.03" fill="#ababab"/><rect x="123.50" y="284.10" width="1.2" height="12.60" fill="#a020f0" fill-opacity="0.6"/><rect x="129.00" y="291.60" width="1.2" height="5.10" fill="#a020f0" fill-opacity="0.6"/><rect x="133.00" y="290.80" width="1.2" height="5.90" fill="#a020f0" fill-opacity="0.6"/><rect x="137.10" y="288.40" width="1.2" height="8.30" fill="#a020f0" fill-opacity="0.6"/><rect x="140.80" y="282.00" width="1.2" height="14.70" fill="#a020f0" fill-opacity="0.6"/><rect x="146.10" y="278.70" width="1.2" height="18.00" fill="#a020f0" fill-opacity="0.6"/><rect x="148.90" y="267.50" width="1.2" height="29.20" fill="#a020f0" fill-opacity="0.6"/><rect x="151.30" y="254.50" width="1.2" height="42.20" fill="#a020f0" fill-opacity="0.6"/><rect x="152.60" y="274.70" width="1.2" height="22.00" fill="#a020f0" fill-opacity="0.6"/><rect x="154.20" y="257.80" width="1.2" height="38.90" fill="#a020f0" fill-opacity="0.6"/><rect x="156.10" y="286.00" width="1.2" height="10.70" fill="#a020f0" fill-opacity="0.6"/><rect x="158.20" y="286.00" width="1.2" height="10.70" fill="#a020f0" fill-opacity="0.6"/><rect x="162.20" y="248.90" width="1.2" height="47.80" fill="#a020f0" fill-opacity="0.6"/><rect x="163.50" y="282.80" width="1.2" height="13.90" fill="#a020f0" fill-opacity="0.6"/><rect x="165.10" y="287.60" width="1.2" height="9.10" fill="#a020f0" fill-opacity="0.6"/><rect x="170.30" y="251.30" width="1.2" height="45.40" fill="#a020f0" fill-opacity="0.6"/><rect x="171.60" y="284.40" width="1.2" height="12.30" fill="#a020f0" fill-opacity="0.6"/><rect x="173.00" y="286.80" width="1.2" height="9.90" fill="#a020f0" fill-opacity="0.6"/><rect x="176.40" y="289.20" width="1.2" height="7.50" fill="#a020f0" fill-opacity="0.6"/><rect x="178.40" y="282.80" width="1.2" height="13.90" fill="#a020f0" fill-opacity="0.6"/><rect x="179.70" y="273.90" width="1.2" height="22.80" fill="#a020f0" fill-opacity="0.6"/><rect x="181.60" y="284.40" width="1.2" height="12.30" fill="#a020f0" fill-opacity="0.6"/><rect x="185.10" y="269.90" width="1.2" height="26.80" fill="#a020f0" fill-opacity="0.6"/><rect x="186.40" y="277.90" width="1.2" height="18.80" fill="#a020f0" fill-opacity="0.6"/><rect x="188.90" y="287.60" width="1.2" height="9.10" fill="#a020f0" fill-opacity="0.6"/><rect x="192.60" y="287.60" width="1.2" height="9.10" fill="#a020f0" fill-opacity="0.6"/><rect x="194.50" y="290.80" width="1.2" height="5.90" fill="#a020f0" fill-opacity="0.6"/><rect x="197.30" y="276.30" width="1.2" height="20.40" fill="#a020f0" fill-opacity="0.6"/><rect x="198.80" y="262.20" width="1.2" height="34.50" fill="#a020f0" fill-opacity="0.6"/><rect x="203.80" y="283.60" width="1.2" height="13.10" fill="#a020f0" fill-opacity="0.6"/><rect x="212.80" y="290.80" width="1.2" height="5.90" fill="#a020f0" fill-opacity="0.6"/><line x1="24.5" y1="296.7" x2="262.0" y2="296.7" stroke="#505050" stroke-width="1"/><line x1="24.5" y1="296.7" x2="256.8" y2="296.7" stroke="#a020f0" stroke-opacity="0.6" stroke-width="1"/><polyline points="24.50,296.70 131.21,296.70 136.09,296.00 138.37,294.37 141.62,293.79 146.37,291.46 152.55,288.14 158.67,284.94 163.36,280.29 166.41,277.78 171.03,275.46 175.72,273.42 181.97,271.09 185.02,267.31 188.08,265.56 190.62,265.21 196.28,263.88 202.53,262.94 205.59,262.36 212.55,261.61 262.00,261.61" fill="none" stroke="#a6a6a6" stroke-width="1"/><polyline points="24.50,296.70 130.00,296.70 134.00,295.70 137.40,294.10 143.80,293.30 147.00,290.80 150.30,288.40 153.50,286.00 156.70,284.40 160.00,282.80 162.80,281.20 167.70,276.30 170.90,272.30 177.40,269.90 182.20,267.50 187.00,264.20 191.90,262.60 196.00,261.80 199.20,259.40 202.50,258.30 204.90,257.80 212.10,257.00 213.70,256.20 262.00,256.20" fill="none" stroke="#a020f0" stroke-width="1.1"/></g><line x1="30.9" y1="248.0" x2="44.0" y2="248.0" stroke="#a8a8a8" stroke-width="1.5"/><text x="50.9" y="249.5" font-size="6.5" fill="#b4b4b4" stroke="#b4b4b4">In Situ</text><line x1="30.9" y1="258.0" x2="44.0" y2="258.0" stroke="#a020f0" stroke-width="1.6"/><text x="50.9" y="259.5" font-size="6.5" fill="#a020f0" stroke="#a020f0">IMERG-Early</text><text transform="translate(50.9,267.5) scale(1,1.12)" font-size="5.2" fill="#1a1a1a" stroke="#1a1a1a" xml:space="preserve">R=0.63, RMS= 5.3 mm/d, Bias=  86. mm</text><rect x="24.5" y="238.5" width="237.5" height="68.2" fill="none" stroke="#aaaaaa" stroke-width="1"/></g>
<g><rect x="273.3" y="238.5" width="248.3" height="68.2" fill="none" stroke="#aaaaaa" stroke-width="1"/><line x1="273.3" y1="296.7" x2="521.6" y2="296.7" stroke="#aaaaaa" stroke-width="1"/><text x="274.90" y="305.30" font-size="6.8" fill="#1a1a1a" stroke="#1a1a1a">Jan</text><line x1="294.39" y1="296.7" x2="294.39" y2="306.7" stroke="#aaaaaa" stroke-width="1"/><line x1="294.39" y1="238.5" x2="294.39" y2="240.0" stroke="#555" stroke-width="0.8"/><text x="295.99" y="305.30" font-size="6.8" fill="#1a1a1a" stroke="#1a1a1a">Feb</text><line x1="313.44" y1="296.7" x2="313.44" y2="306.7" stroke="#aaaaaa" stroke-width="1"/><line x1="313.44" y1="238.5" x2="313.44" y2="240.0" stroke="#555" stroke-width="0.8"/><text x="315.04" y="305.30" font-size="6.8" fill="#1a1a1a" stroke="#1a1a1a">Mar</text><line x1="334.52" y1="296.7" x2="334.52" y2="306.7" stroke="#aaaaaa" stroke-width="1"/><line x1="334.52" y1="238.5" x2="334.52" y2="240.0" stroke="#555" stroke-width="0.8"/><text x="336.12" y="305.30" font-size="6.8" fill="#1a1a1a" stroke="#1a1a1a">Apr</text><line x1="354.93" y1="296.7" x2="354.93" y2="306.7" stroke="#aaaaaa" stroke-width="1"/><line x1="354.93" y1="238.5" x2="354.93" y2="240.0" stroke="#555" stroke-width="0.8"/><text x="356.53" y="305.30" font-size="6.8" fill="#1a1a1a" stroke="#1a1a1a">May</text><line x1="376.02" y1="296.7" x2="376.02" y2="306.7" stroke="#aaaaaa" stroke-width="1"/><line x1="376.02" y1="238.5" x2="376.02" y2="240.0" stroke="#555" stroke-width="0.8"/><text x="377.62" y="305.30" font-size="6.8" fill="#1a1a1a" stroke="#1a1a1a">Jun</text><line x1="396.43" y1="296.7" x2="396.43" y2="306.7" stroke="#aaaaaa" stroke-width="1"/><line x1="396.43" y1="238.5" x2="396.43" y2="240.0" stroke="#555" stroke-width="0.8"/><text x="398.03" y="305.30" font-size="6.8" fill="#1a1a1a" stroke="#1a1a1a">Jul</text><line x1="417.52" y1="296.7" x2="417.52" y2="306.7" stroke="#aaaaaa" stroke-width="1"/><line x1="417.52" y1="238.5" x2="417.52" y2="240.0" stroke="#555" stroke-width="0.8"/><text x="419.12" y="305.30" font-size="6.8" fill="#1a1a1a" stroke="#1a1a1a">Aug</text><line x1="438.61" y1="296.7" x2="438.61" y2="306.7" stroke="#aaaaaa" stroke-width="1"/><line x1="438.61" y1="238.5" x2="438.61" y2="240.0" stroke="#555" stroke-width="0.8"/><text x="440.21" y="305.30" font-size="6.8" fill="#1a1a1a" stroke="#1a1a1a">Sep</text><line x1="459.01" y1="296.7" x2="459.01" y2="306.7" stroke="#aaaaaa" stroke-width="1"/><line x1="459.01" y1="238.5" x2="459.01" y2="240.0" stroke="#555" stroke-width="0.8"/><text x="460.61" y="305.30" font-size="6.8" fill="#1a1a1a" stroke="#1a1a1a">Oct</text><line x1="480.10" y1="296.7" x2="480.10" y2="306.7" stroke="#aaaaaa" stroke-width="1"/><line x1="480.10" y1="238.5" x2="480.10" y2="240.0" stroke="#555" stroke-width="0.8"/><text x="481.70" y="305.30" font-size="6.8" fill="#1a1a1a" stroke="#1a1a1a">Nov</text><line x1="500.51" y1="296.7" x2="500.51" y2="306.7" stroke="#aaaaaa" stroke-width="1"/><line x1="500.51" y1="238.5" x2="500.51" y2="240.0" stroke="#555" stroke-width="0.8"/><text x="502.11" y="305.30" font-size="6.8" fill="#1a1a1a" stroke="#1a1a1a">Dec</text><line x1="273.3" y1="282.15" x2="277.8" y2="282.15" stroke="#aaaaaa" stroke-width="1"/><line x1="517.1" y1="282.15" x2="521.6" y2="282.15" stroke="#aaaaaa" stroke-width="1"/><line x1="273.3" y1="267.60" x2="277.8" y2="267.60" stroke="#aaaaaa" stroke-width="1"/><line x1="517.1" y1="267.60" x2="521.6" y2="267.60" stroke="#aaaaaa" stroke-width="1"/><line x1="273.3" y1="253.05" x2="277.8" y2="253.05" stroke="#aaaaaa" stroke-width="1"/><line x1="517.1" y1="253.05" x2="521.6" y2="253.05" stroke="#aaaaaa" stroke-width="1"/><text x="271.20" y="297.40" font-size="6.8" text-anchor="end" fill="#1a1a1a" stroke="#1a1a1a">0</text><text x="271.20" y="284.55" font-size="6.8" text-anchor="end" fill="#1a1a1a" stroke="#1a1a1a">15</text><text x="271.20" y="270.00" font-size="6.8" text-anchor="end" fill="#1a1a1a" stroke="#1a1a1a">30</text><text x="271.20" y="255.45" font-size="6.8" text-anchor="end" fill="#1a1a1a" stroke="#1a1a1a">45</text><text x="271.20" y="242.60" font-size="6.8" text-anchor="end" fill="#1a1a1a" stroke="#1a1a1a">60</text><text x="523.60" y="297.40" font-size="6.8" fill="#1a1a1a" stroke="#1a1a1a">0</text><text x="523.60" y="284.55" font-size="6.8" fill="#1a1a1a" stroke="#1a1a1a">250</text><text x="523.60" y="270.00" font-size="6.8" fill="#1a1a1a" stroke="#1a1a1a">500</text><text x="523.60" y="255.45" font-size="6.8" fill="#1a1a1a" stroke="#1a1a1a">750</text><text x="523.60" y="242.60" font-size="6.8" fill="#1a1a1a" stroke="#1a1a1a">1000</text><text transform="translate(544.3,267.60) rotate(-90)" font-size="6.6" text-anchor="middle" fill="#1a1a1a" stroke="#1a1a1a">Annual Rainfall (mm)</text><clipPath id="cp31"><rect x="273.3" y="238.5" width="248.3" height="59.0"/></clipPath><g clip-path="url(#cp31)"><rect x="297.19" y="295.92" width="1.2" height="0.78" fill="#ababab"/><rect x="306.71" y="295.73" width="1.2" height="0.97" fill="#ababab"/><rect x="354.33" y="295.54" width="1.2" height="1.16" fill="#ababab"/><rect x="376.78" y="291.27" width="1.2" height="5.43" fill="#ababab"/><rect x="381.54" y="293.79" width="1.2" height="2.91" fill="#ababab"/><rect x="385.63" y="292.82" width="1.2" height="3.88" fill="#ababab"/><rect x="389.03" y="290.88" width="1.2" height="5.82" fill="#ababab"/><rect x="391.07" y="258.87" width="1.2" height="37.83" fill="#ababab"/><rect x="394.47" y="286.03" width="1.2" height="10.67" fill="#ababab"/><rect x="397.87" y="290.88" width="1.2" height="5.82" fill="#ababab"/><rect x="399.23" y="292.82" width="1.2" height="3.88" fill="#ababab"/><rect x="401.61" y="265.66" width="1.2" height="31.04" fill="#ababab"/><rect x="403.31" y="291.85" width="1.2" height="4.85" fill="#ababab"/><rect x="405.01" y="274.39" width="1.2" height="22.31" fill="#ababab"/><rect x="406.71" y="288.94" width="1.2" height="7.76" fill="#ababab"/><rect x="408.07" y="275.36" width="1.2" height="21.34" fill="#ababab"/><rect x="409.44" y="287.00" width="1.2" height="9.70" fill="#ababab"/><rect x="410.80" y="285.06" width="1.2" height="11.64" fill="#ababab"/><rect x="412.50" y="280.21" width="1.2" height="16.49" fill="#ababab"/><rect x="413.52" y="288.94" width="1.2" height="7.76" fill="#ababab"/><rect x="415.08" y="266.63" width="1.2" height="30.07" fill="#ababab"/><rect x="416.24" y="283.12" width="1.2" height="13.58" fill="#ababab"/><rect x="418.14" y="256.93" width="1.2" height="39.77" fill="#ababab"/><rect x="419.84" y="280.21" width="1.2" height="16.49" fill="#ababab"/><rect x="421.34" y="287.00" width="1.2" height="9.70" fill="#ababab"/><rect x="423.24" y="283.12" width="1.2" height="13.58" fill="#ababab"/><rect x="425.08" y="266.63" width="1.2" height="30.07" fill="#ababab"/><rect x="426.58" y="278.27" width="1.2" height="18.43" fill="#ababab"/><rect x="428.14" y="288.94" width="1.2" height="7.76" fill="#ababab"/><rect x="429.84" y="288.94" width="1.2" height="7.76" fill="#ababab"/><rect x="431.20" y="287.00" width="1.2" height="9.70" fill="#ababab"/><rect x="433.79" y="281.18" width="1.2" height="15.52" fill="#ababab"/><rect x="434.81" y="284.09" width="1.2" height="12.61" fill="#ababab"/><rect x="437.26" y="276.33" width="1.2" height="20.37" fill="#ababab"/><rect x="438.35" y="288.94" width="1.2" height="7.76" fill="#ababab"/><rect x="439.71" y="251.11" width="1.2" height="45.59" fill="#ababab"/><rect x="441.75" y="270.51" width="1.2" height="26.19" fill="#ababab"/><rect x="443.11" y="290.88" width="1.2" height="5.82" fill="#ababab"/><rect x="445.29" y="286.03" width="1.2" height="10.67" fill="#ababab"/><rect x="446.85" y="280.21" width="1.2" height="16.49" fill="#ababab"/><rect x="448.62" y="291.85" width="1.2" height="4.85" fill="#ababab"/><rect x="449.37" y="279.24" width="1.2" height="17.46" fill="#ababab"/><rect x="450.93" y="291.85" width="1.2" height="4.85" fill="#ababab"/><rect x="452.56" y="287.97" width="1.2" height="8.73" fill="#ababab"/><rect x="454.54" y="283.12" width="1.2" height="13.58" fill="#ababab"/><rect x="455.35" y="281.18" width="1.2" height="15.52" fill="#ababab"/><rect x="457.73" y="292.82" width="1.2" height="3.88" fill="#ababab"/><rect x="460.86" y="273.42" width="1.2" height="23.28" fill="#ababab"/><rect x="463.18" y="291.85" width="1.2" height="4.85" fill="#ababab"/><rect x="466.58" y="293.79" width="1.2" height="2.91" fill="#ababab"/><rect x="470.59" y="281.66" width="1.2" height="15.03" fill="#ababab"/><rect x="376.20" y="288.40" width="1.2" height="8.30" fill="#a020f0" fill-opacity="0.6"/><rect x="382.40" y="292.50" width="1.2" height="4.20" fill="#a020f0" fill-opacity="0.6"/><rect x="386.40" y="291.60" width="1.2" height="5.10" fill="#a020f0" fill-opacity="0.6"/><rect x="391.10" y="288.40" width="1.2" height="8.30" fill="#a020f0" fill-opacity="0.6"/><rect x="394.80" y="284.10" width="1.2" height="12.60" fill="#a020f0" fill-opacity="0.6"/><rect x="400.40" y="284.10" width="1.2" height="12.60" fill="#a020f0" fill-opacity="0.6"/><rect x="403.30" y="275.50" width="1.2" height="21.20" fill="#a020f0" fill-opacity="0.6"/><rect x="405.60" y="261.80" width="1.2" height="34.90" fill="#a020f0" fill-opacity="0.6"/><rect x="406.60" y="279.50" width="1.2" height="17.20" fill="#a020f0" fill-opacity="0.6"/><rect x="408.50" y="276.30" width="1.2" height="20.40" fill="#a020f0" fill-opacity="0.6"/><rect x="410.10" y="286.00" width="1.2" height="10.70" fill="#a020f0" fill-opacity="0.6"/><rect x="412.20" y="284.40" width="1.2" height="12.30" fill="#a020f0" fill-opacity="0.6"/><rect x="412.50" y="282.80" width="1.2" height="13.90" fill="#a020f0" fill-opacity="0.6"/><rect x="417.00" y="262.60" width="1.2" height="34.10" fill="#a020f0" fill-opacity="0.6"/><rect x="419.10" y="286.00" width="1.2" height="10.70" fill="#a020f0" fill-opacity="0.6"/><rect x="420.80" y="287.60" width="1.2" height="9.10" fill="#a020f0" fill-opacity="0.6"/><rect x="425.10" y="264.20" width="1.2" height="32.50" fill="#a020f0" fill-opacity="0.6"/><rect x="426.70" y="284.40" width="1.2" height="12.30" fill="#a020f0" fill-opacity="0.6"/><rect x="428.30" y="287.60" width="1.2" height="9.10" fill="#a020f0" fill-opacity="0.6"/><rect x="431.60" y="287.60" width="1.2" height="9.10" fill="#a020f0" fill-opacity="0.6"/><rect x="433.20" y="284.40" width="1.2" height="12.30" fill="#a020f0" fill-opacity="0.6"/><rect x="435.60" y="277.10" width="1.2" height="19.60" fill="#a020f0" fill-opacity="0.6"/><rect x="440.90" y="276.30" width="1.2" height="20.40" fill="#a020f0" fill-opacity="0.6"/><rect x="445.30" y="286.80" width="1.2" height="9.90" fill="#a020f0" fill-opacity="0.6"/><rect x="449.30" y="290.80" width="1.2" height="5.90" fill="#a020f0" fill-opacity="0.6"/><rect x="453.80" y="282.00" width="1.2" height="14.70" fill="#a020f0" fill-opacity="0.6"/><rect x="454.90" y="276.00" width="1.2" height="20.70" fill="#a020f0" fill-opacity="0.6"/><rect x="460.60" y="278.70" width="1.2" height="18.00" fill="#a020f0" fill-opacity="0.6"/><rect x="470.30" y="290.00" width="1.2" height="6.70" fill="#a020f0" fill-opacity="0.6"/><line x1="273.3" y1="296.7" x2="521.6" y2="296.7" stroke="#505050" stroke-width="1"/><line x1="273.3" y1="296.7" x2="516.2" y2="296.7" stroke="#a020f0" stroke-opacity="0.6" stroke-width="1"/><polyline points="273.30,296.70 384.86,296.70 389.97,296.00 392.35,294.37 395.75,293.79 400.72,291.46 407.18,288.14 413.57,284.94 418.47,280.29 421.67,277.78 426.50,275.46 431.40,273.42 437.93,271.09 441.12,267.31 444.32,265.56 446.97,265.21 452.89,263.88 459.42,262.94 462.62,262.36 469.90,261.61 521.60,261.61" fill="none" stroke="#a6a6a6" stroke-width="1"/><polyline points="273.30,296.70 390.00,296.70 394.60,294.40 399.40,293.70 401.80,291.60 404.30,289.20 407.50,286.80 410.70,285.20 416.00,283.60 416.80,282.80 421.70,280.40 428.10,277.90 434.60,274.70 439.40,272.30 444.30,269.90 452.00,268.80 454.40,268.30 456.00,266.60 460.10,265.80 461.70,265.40 469.70,265.20 471.40,265.00 521.60,265.00" fill="none" stroke="#a020f0" stroke-width="1.1"/></g><line x1="280.0" y1="248.0" x2="293.7" y2="248.0" stroke="#a8a8a8" stroke-width="1.5"/><text x="300.9" y="249.5" font-size="6.5" fill="#b4b4b4" stroke="#b4b4b4">In Situ</text><line x1="280.0" y1="258.0" x2="293.7" y2="258.0" stroke="#a020f0" stroke-width="1.6"/><text x="300.9" y="259.5" font-size="6.5" fill="#a020f0" stroke="#a020f0">IMERG-Final</text><text transform="translate(300.9,267.5) scale(1,1.12)" font-size="5.2" fill="#1a1a1a" stroke="#1a1a1a" xml:space="preserve">R=0.66, RMS= 4.6 mm/d, Bias= -54. mm</text><rect x="273.3" y="238.5" width="248.3" height="68.2" fill="none" stroke="#aaaaaa" stroke-width="1"/></g>
<g><rect x="24.5" y="312.5" width="237.5" height="65.5" fill="none" stroke="#aaaaaa" stroke-width="1"/><line x1="24.5" y1="367.3" x2="262.0" y2="367.3" stroke="#aaaaaa" stroke-width="1"/><text x="26.10" y="375.90" font-size="6.8" fill="#1a1a1a" stroke="#1a1a1a">Jan</text><line x1="44.67" y1="367.3" x2="44.67" y2="378.0" stroke="#aaaaaa" stroke-width="1"/><line x1="44.67" y1="312.5" x2="44.67" y2="314.0" stroke="#555" stroke-width="0.8"/><text x="46.27" y="375.90" font-size="6.8" fill="#1a1a1a" stroke="#1a1a1a">Feb</text><line x1="62.89" y1="367.3" x2="62.89" y2="378.0" stroke="#aaaaaa" stroke-width="1"/><line x1="62.89" y1="312.5" x2="62.89" y2="314.0" stroke="#555" stroke-width="0.8"/><text x="64.49" y="375.90" font-size="6.8" fill="#1a1a1a" stroke="#1a1a1a">Mar</text><line x1="83.06" y1="367.3" x2="83.06" y2="378.0" stroke="#aaaaaa" stroke-width="1"/><line x1="83.06" y1="312.5" x2="83.06" y2="314.0" stroke="#555" stroke-width="0.8"/><text x="84.66" y="375.90" font-size="6.8" fill="#1a1a1a" stroke="#1a1a1a">Apr</text><line x1="102.58" y1="367.3" x2="102.58" y2="378.0" stroke="#aaaaaa" stroke-width="1"/><line x1="102.58" y1="312.5" x2="102.58" y2="314.0" stroke="#555" stroke-width="0.8"/><text x="104.18" y="375.90" font-size="6.8" fill="#1a1a1a" stroke="#1a1a1a">May</text><line x1="122.75" y1="367.3" x2="122.75" y2="378.0" stroke="#aaaaaa" stroke-width="1"/><line x1="122.75" y1="312.5" x2="122.75" y2="314.0" stroke="#555" stroke-width="0.8"/><text x="124.35" y="375.90" font-size="6.8" fill="#1a1a1a" stroke="#1a1a1a">Jun</text><line x1="142.27" y1="367.3" x2="142.27" y2="378.0" stroke="#aaaaaa" stroke-width="1"/><line x1="142.27" y1="312.5" x2="142.27" y2="314.0" stroke="#555" stroke-width="0.8"/><text x="143.87" y="375.90" font-size="6.8" fill="#1a1a1a" stroke="#1a1a1a">Jul</text><line x1="162.45" y1="367.3" x2="162.45" y2="378.0" stroke="#aaaaaa" stroke-width="1"/><line x1="162.45" y1="312.5" x2="162.45" y2="314.0" stroke="#555" stroke-width="0.8"/><text x="164.05" y="375.90" font-size="6.8" fill="#1a1a1a" stroke="#1a1a1a">Aug</text><line x1="182.62" y1="367.3" x2="182.62" y2="378.0" stroke="#aaaaaa" stroke-width="1"/><line x1="182.62" y1="312.5" x2="182.62" y2="314.0" stroke="#555" stroke-width="0.8"/><text x="184.22" y="375.90" font-size="6.8" fill="#1a1a1a" stroke="#1a1a1a">Sep</text><line x1="202.14" y1="367.3" x2="202.14" y2="378.0" stroke="#aaaaaa" stroke-width="1"/><line x1="202.14" y1="312.5" x2="202.14" y2="314.0" stroke="#555" stroke-width="0.8"/><text x="203.74" y="375.90" font-size="6.8" fill="#1a1a1a" stroke="#1a1a1a">Oct</text><line x1="222.31" y1="367.3" x2="222.31" y2="378.0" stroke="#aaaaaa" stroke-width="1"/><line x1="222.31" y1="312.5" x2="222.31" y2="314.0" stroke="#555" stroke-width="0.8"/><text x="223.91" y="375.90" font-size="6.8" fill="#1a1a1a" stroke="#1a1a1a">Nov</text><line x1="241.83" y1="367.3" x2="241.83" y2="378.0" stroke="#aaaaaa" stroke-width="1"/><line x1="241.83" y1="312.5" x2="241.83" y2="314.0" stroke="#555" stroke-width="0.8"/><text x="243.43" y="375.90" font-size="6.8" fill="#1a1a1a" stroke="#1a1a1a">Dec</text><line x1="24.5" y1="353.60" x2="29.0" y2="353.60" stroke="#aaaaaa" stroke-width="1"/><line x1="257.5" y1="353.60" x2="262.0" y2="353.60" stroke="#aaaaaa" stroke-width="1"/><line x1="24.5" y1="339.90" x2="29.0" y2="339.90" stroke="#aaaaaa" stroke-width="1"/><line x1="257.5" y1="339.90" x2="262.0" y2="339.90" stroke="#aaaaaa" stroke-width="1"/><line x1="24.5" y1="326.20" x2="29.0" y2="326.20" stroke="#aaaaaa" stroke-width="1"/><line x1="257.5" y1="326.20" x2="262.0" y2="326.20" stroke="#aaaaaa" stroke-width="1"/><text x="23.20" y="368.00" font-size="6.8" text-anchor="end" fill="#1a1a1a" stroke="#1a1a1a">0</text><text x="23.20" y="356.00" font-size="6.8" text-anchor="end" fill="#1a1a1a" stroke="#1a1a1a">15</text><text x="23.20" y="342.30" font-size="6.8" text-anchor="end" fill="#1a1a1a" stroke="#1a1a1a">30</text><text x="23.20" y="328.60" font-size="6.8" text-anchor="end" fill="#1a1a1a" stroke="#1a1a1a">45</text><text x="23.20" y="316.60" font-size="6.8" text-anchor="end" fill="#1a1a1a" stroke="#1a1a1a">60</text><text transform="translate(10.6,339.90) rotate(-90)" font-size="6.6" text-anchor="middle" fill="#1a1a1a" stroke="#1a1a1a">Rainfall (mm/d)</text><clipPath id="cp40"><rect x="24.5" y="312.5" width="237.5" height="55.6"/></clipPath><g clip-path="url(#cp40)"><rect x="47.32" y="366.57" width="1.2" height="0.73" fill="#ababab"/><rect x="56.43" y="366.39" width="1.2" height="0.91" fill="#ababab"/><rect x="101.98" y="366.20" width="1.2" height="1.10" fill="#ababab"/><rect x="123.45" y="362.19" width="1.2" height="5.11" fill="#ababab"/><rect x="128.01" y="364.56" width="1.2" height="2.74" fill="#ababab"/><rect x="131.91" y="363.65" width="1.2" height="3.65" fill="#ababab"/><rect x="135.17" y="361.82" width="1.2" height="5.48" fill="#ababab"/><rect x="137.12" y="331.68" width="1.2" height="35.62" fill="#ababab"/><rect x="140.37" y="357.25" width="1.2" height="10.05" fill="#ababab"/><rect x="143.63" y="361.82" width="1.2" height="5.48" fill="#ababab"/><rect x="144.93" y="363.65" width="1.2" height="3.65" fill="#ababab"/><rect x="147.20" y="338.07" width="1.2" height="29.23" fill="#ababab"/><rect x="148.83" y="362.73" width="1.2" height="4.57" fill="#ababab"/><rect x="150.46" y="346.29" width="1.2" height="21.01" fill="#ababab"/><rect x="152.08" y="359.99" width="1.2" height="7.31" fill="#ababab"/><rect x="153.39" y="347.21" width="1.2" height="20.09" fill="#ababab"/><rect x="154.69" y="358.17" width="1.2" height="9.13" fill="#ababab"/><rect x="155.99" y="356.34" width="1.2" height="10.96" fill="#ababab"/><rect x="157.62" y="351.77" width="1.2" height="15.53" fill="#ababab"/><rect x="158.59" y="359.99" width="1.2" height="7.31" fill="#ababab"/><rect x="160.09" y="338.99" width="1.2" height="28.31" fill="#ababab"/><rect x="161.19" y="354.51" width="1.2" height="12.79" fill="#ababab"/><rect x="163.02" y="329.85" width="1.2" height="37.45" fill="#ababab"/><rect x="164.64" y="351.77" width="1.2" height="15.53" fill="#ababab"/><rect x="166.07" y="358.17" width="1.2" height="9.13" fill="#ababab"/><rect x="167.90" y="354.51" width="1.2" height="12.79" fill="#ababab"/><rect x="169.65" y="338.99" width="1.2" height="28.31" fill="#ababab"/><rect x="171.08" y="349.95" width="1.2" height="17.35" fill="#ababab"/><rect x="172.58" y="359.99" width="1.2" height="7.31" fill="#ababab"/><rect x="174.21" y="359.99" width="1.2" height="7.31" fill="#ababab"/><rect x="175.51" y="358.17" width="1.2" height="9.13" fill="#ababab"/><rect x="177.98" y="352.69" width="1.2" height="14.61" fill="#ababab"/><rect x="178.96" y="355.43" width="1.2" height="11.87" fill="#ababab"/><rect x="181.30" y="348.12" width="1.2" height="19.18" fill="#ababab"/><rect x="182.34" y="359.99" width="1.2" height="7.31" fill="#ababab"/><rect x="183.64" y="324.37" width="1.2" height="42.93" fill="#ababab"/><rect x="185.60" y="342.64" width="1.2" height="24.66" fill="#ababab"/><rect x="186.90" y="361.82" width="1.2" height="5.48" fill="#ababab"/><rect x="188.98" y="357.25" width="1.2" height="10.05" fill="#ababab"/><rect x="190.48" y="351.77" width="1.2" height="15.53" fill="#ababab"/><rect x="192.17" y="362.73" width="1.2" height="4.57" fill="#ababab"/><rect x="192.88" y="350.86" width="1.2" height="16.44" fill="#ababab"/><rect x="194.38" y="362.73" width="1.2" height="4.57" fill="#ababab"/><rect x="195.94" y="359.08" width="1.2" height="8.22" fill="#ababab"/><rect x="197.83" y="354.51" width="1.2" height="12.79" fill="#ababab"/><rect x="198.61" y="352.69" width="1.2" height="14.61" fill="#ababab"/><rect x="200.89" y="363.65" width="1.2" height="3.65" fill="#ababab"/><rect x="203.88" y="345.38" width="1.2" height="21.92" fill="#ababab"/><rect x="206.09" y="362.73" width="1.2" height="4.57" fill="#ababab"/><rect x="209.35" y="364.56" width="1.2" height="2.74" fill="#ababab"/><rect x="213.18" y="353.14" width="1.2" height="14.16" fill="#ababab"/><rect x="123.90" y="353.80" width="1.2" height="13.50" fill="#ff8c1a" fill-opacity="0.6"/><rect x="128.90" y="357.60" width="1.2" height="9.70" fill="#ff8c1a" fill-opacity="0.6"/><rect x="132.80" y="362.20" width="1.2" height="5.10" fill="#ff8c1a" fill-opacity="0.6"/><rect x="137.40" y="357.60" width="1.2" height="9.70" fill="#ff8c1a" fill-opacity="0.6"/><rect x="140.40" y="359.90" width="1.2" height="7.40" fill="#ff8c1a" fill-opacity="0.6"/><rect x="145.80" y="357.60" width="1.2" height="9.70" fill="#ff8c1a" fill-opacity="0.6"/><rect x="148.10" y="352.20" width="1.2" height="15.10" fill="#ff8c1a" fill-opacity="0.6"/><rect x="149.70" y="353.00" width="1.2" height="14.30" fill="#ff8c1a" fill-opacity="0.6"/><rect x="154.30" y="347.60" width="1.2" height="19.70" fill="#ff8c1a" fill-opacity="0.6"/><rect x="158.20" y="356.10" width="1.2" height="11.20" fill="#ff8c1a" fill-opacity="0.6"/><rect x="160.10" y="346.90" width="1.2" height="20.40" fill="#ff8c1a" fill-opacity="0.6"/><rect x="163.10" y="340.70" width="1.2" height="26.60" fill="#ff8c1a" fill-opacity="0.6"/><rect x="164.30" y="354.50" width="1.2" height="12.80" fill="#ff8c1a" fill-opacity="0.6"/><rect x="165.80" y="359.20" width="1.2" height="8.10" fill="#ff8c1a" fill-opacity="0.6"/><rect x="169.40" y="346.90" width="1.2" height="20.40" fill="#ff8c1a" fill-opacity="0.6"/><rect x="170.90" y="354.50" width="1.2" height="12.80" fill="#ff8c1a" fill-opacity="0.6"/><rect x="172.80" y="356.10" width="1.2" height="11.20" fill="#ff8c1a" fill-opacity="0.6"/><rect x="176.60" y="359.20" width="1.2" height="8.10" fill="#ff8c1a" fill-opacity="0.6"/><rect x="178.10" y="354.50" width="1.2" height="12.80" fill="#ff8c1a" fill-opacity="0.6"/><rect x="180.10" y="348.40" width="1.2" height="18.90" fill="#ff8c1a" fill-opacity="0.6"/><rect x="183.50" y="351.50" width="1.2" height="15.80" fill="#ff8c1a" fill-opacity="0.6"/><rect x="185.40" y="356.10" width="1.2" height="11.20" fill="#ff8c1a" fill-opacity="0.6"/><rect x="188.90" y="359.20" width="1.2" height="8.10" fill="#ff8c1a" fill-opacity="0.6"/><rect x="192.00" y="362.20" width="1.2" height="5.10" fill="#ff8c1a" fill-opacity="0.6"/><rect x="197.70" y="359.90" width="1.2" height="7.40" fill="#ff8c1a" fill-opacity="0.6"/><rect x="198.50" y="360.70" width="1.2" height="6.60" fill="#ff8c1a" fill-opacity="0.6"/><rect x="203.80" y="360.70" width="1.2" height="6.60" fill="#ff8c1a" fill-opacity="0.6"/><rect x="213.10" y="364.60" width="1.2" height="2.70" fill="#ff8c1a" fill-opacity="0.6"/><line x1="24.5" y1="367.3" x2="262.0" y2="367.3" stroke="#505050" stroke-width="1"/><line x1="24.5" y1="367.3" x2="256.8" y2="367.3" stroke="#ff8c1a" stroke-opacity="0.6" stroke-width="1"/><polyline points="24.50,367.30 131.21,367.30 136.09,366.64 138.37,365.11 141.62,364.56 146.37,362.37 152.55,359.24 158.67,356.23 163.36,351.85 166.41,349.49 171.03,347.30 175.72,345.38 181.97,343.19 185.02,339.63 188.08,337.98 190.62,337.65 196.28,336.39 202.53,335.52 205.59,334.97 212.55,334.26 262.00,334.26" fill="none" stroke="#a6a6a6" stroke-width="1"/><polyline points="24.50,367.30 125.00,367.30 133.40,366.00 138.00,365.30 144.10,363.80 147.20,361.50 150.30,360.30 154.90,359.20 158.00,358.20 161.90,356.10 164.10,354.50 170.30,351.50 176.40,349.20 182.60,346.10 188.70,343.80 194.90,342.80 199.10,342.30 203.70,341.50 262.00,341.50" fill="none" stroke="#ff8c1a" stroke-width="1.1"/></g><line x1="30.9" y1="321.4" x2="44.0" y2="321.4" stroke="#a8a8a8" stroke-width="1.5"/><text x="50.9" y="322.9" font-size="6.5" fill="#b4b4b4" stroke="#b4b4b4">In Situ</text><line x1="30.9" y1="330.9" x2="44.0" y2="330.9" stroke="#ff8c1a" stroke-width="1.6"/><text x="50.9" y="332.4" font-size="6.5" fill="#ff8c1a" stroke="#ff8c1a">CHIRPS_025</text><text transform="translate(50.9,339.8) scale(1,1.12)" font-size="5.2" fill="#1a1a1a" stroke="#1a1a1a" xml:space="preserve">R=0.70, RMS= 4.3 mm/d, Bias=-138. mm</text><rect x="24.5" y="312.5" width="237.5" height="65.5" fill="none" stroke="#aaaaaa" stroke-width="1"/></g>
<g><rect x="273.3" y="312.5" width="248.3" height="65.5" fill="none" stroke="#aaaaaa" stroke-width="1"/><line x1="273.3" y1="367.3" x2="521.6" y2="367.3" stroke="#aaaaaa" stroke-width="1"/><text x="274.90" y="375.90" font-size="6.8" fill="#1a1a1a" stroke="#1a1a1a">Jan</text><line x1="294.39" y1="367.3" x2="294.39" y2="378.0" stroke="#aaaaaa" stroke-width="1"/><line x1="294.39" y1="312.5" x2="294.39" y2="314.0" stroke="#555" stroke-width="0.8"/><text x="295.99" y="375.90" font-size="6.8" fill="#1a1a1a" stroke="#1a1a1a">Feb</text><line x1="313.44" y1="367.3" x2="313.44" y2="378.0" stroke="#aaaaaa" stroke-width="1"/><line x1="313.44" y1="312.5" x2="313.44" y2="314.0" stroke="#555" stroke-width="0.8"/><text x="315.04" y="375.90" font-size="6.8" fill="#1a1a1a" stroke="#1a1a1a">Mar</text><line x1="334.52" y1="367.3" x2="334.52" y2="378.0" stroke="#aaaaaa" stroke-width="1"/><line x1="334.52" y1="312.5" x2="334.52" y2="314.0" stroke="#555" stroke-width="0.8"/><text x="336.12" y="375.90" font-size="6.8" fill="#1a1a1a" stroke="#1a1a1a">Apr</text><line x1="354.93" y1="367.3" x2="354.93" y2="378.0" stroke="#aaaaaa" stroke-width="1"/><line x1="354.93" y1="312.5" x2="354.93" y2="314.0" stroke="#555" stroke-width="0.8"/><text x="356.53" y="375.90" font-size="6.8" fill="#1a1a1a" stroke="#1a1a1a">May</text><line x1="376.02" y1="367.3" x2="376.02" y2="378.0" stroke="#aaaaaa" stroke-width="1"/><line x1="376.02" y1="312.5" x2="376.02" y2="314.0" stroke="#555" stroke-width="0.8"/><text x="377.62" y="375.90" font-size="6.8" fill="#1a1a1a" stroke="#1a1a1a">Jun</text><line x1="396.43" y1="367.3" x2="396.43" y2="378.0" stroke="#aaaaaa" stroke-width="1"/><line x1="396.43" y1="312.5" x2="396.43" y2="314.0" stroke="#555" stroke-width="0.8"/><text x="398.03" y="375.90" font-size="6.8" fill="#1a1a1a" stroke="#1a1a1a">Jul</text><line x1="417.52" y1="367.3" x2="417.52" y2="378.0" stroke="#aaaaaa" stroke-width="1"/><line x1="417.52" y1="312.5" x2="417.52" y2="314.0" stroke="#555" stroke-width="0.8"/><text x="419.12" y="375.90" font-size="6.8" fill="#1a1a1a" stroke="#1a1a1a">Aug</text><line x1="438.61" y1="367.3" x2="438.61" y2="378.0" stroke="#aaaaaa" stroke-width="1"/><line x1="438.61" y1="312.5" x2="438.61" y2="314.0" stroke="#555" stroke-width="0.8"/><text x="440.21" y="375.90" font-size="6.8" fill="#1a1a1a" stroke="#1a1a1a">Sep</text><line x1="459.01" y1="367.3" x2="459.01" y2="378.0" stroke="#aaaaaa" stroke-width="1"/><line x1="459.01" y1="312.5" x2="459.01" y2="314.0" stroke="#555" stroke-width="0.8"/><text x="460.61" y="375.90" font-size="6.8" fill="#1a1a1a" stroke="#1a1a1a">Oct</text><line x1="480.10" y1="367.3" x2="480.10" y2="378.0" stroke="#aaaaaa" stroke-width="1"/><line x1="480.10" y1="312.5" x2="480.10" y2="314.0" stroke="#555" stroke-width="0.8"/><text x="481.70" y="375.90" font-size="6.8" fill="#1a1a1a" stroke="#1a1a1a">Nov</text><line x1="500.51" y1="367.3" x2="500.51" y2="378.0" stroke="#aaaaaa" stroke-width="1"/><line x1="500.51" y1="312.5" x2="500.51" y2="314.0" stroke="#555" stroke-width="0.8"/><text x="502.11" y="375.90" font-size="6.8" fill="#1a1a1a" stroke="#1a1a1a">Dec</text><line x1="273.3" y1="353.60" x2="277.8" y2="353.60" stroke="#aaaaaa" stroke-width="1"/><line x1="517.1" y1="353.60" x2="521.6" y2="353.60" stroke="#aaaaaa" stroke-width="1"/><line x1="273.3" y1="339.90" x2="277.8" y2="339.90" stroke="#aaaaaa" stroke-width="1"/><line x1="517.1" y1="339.90" x2="521.6" y2="339.90" stroke="#aaaaaa" stroke-width="1"/><line x1="273.3" y1="326.20" x2="277.8" y2="326.20" stroke="#aaaaaa" stroke-width="1"/><line x1="517.1" y1="326.20" x2="521.6" y2="326.20" stroke="#aaaaaa" stroke-width="1"/><text x="271.20" y="368.00" font-size="6.8" text-anchor="end" fill="#1a1a1a" stroke="#1a1a1a">0</text><text x="271.20" y="356.00" font-size="6.8" text-anchor="end" fill="#1a1a1a" stroke="#1a1a1a">15</text><text x="271.20" y="342.30" font-size="6.8" text-anchor="end" fill="#1a1a1a" stroke="#1a1a1a">30</text><text x="271.20" y="328.60" font-size="6.8" text-anchor="end" fill="#1a1a1a" stroke="#1a1a1a">45</text><text x="271.20" y="316.60" font-size="6.8" text-anchor="end" fill="#1a1a1a" stroke="#1a1a1a">60</text><text x="523.60" y="368.00" font-size="6.8" fill="#1a1a1a" stroke="#1a1a1a">0</text><text x="523.60" y="356.00" font-size="6.8" fill="#1a1a1a" stroke="#1a1a1a">250</text><text x="523.60" y="342.30" font-size="6.8" fill="#1a1a1a" stroke="#1a1a1a">500</text><text x="523.60" y="328.60" font-size="6.8" fill="#1a1a1a" stroke="#1a1a1a">750</text><text x="523.60" y="316.60" font-size="6.8" fill="#1a1a1a" stroke="#1a1a1a">1000</text><text transform="translate(544.3,339.90) rotate(-90)" font-size="6.6" text-anchor="middle" fill="#1a1a1a" stroke="#1a1a1a">Annual Rainfall (mm)</text><clipPath id="cp41"><rect x="273.3" y="312.5" width="248.3" height="55.6"/></clipPath><g clip-path="url(#cp41)"><rect x="297.19" y="366.57" width="1.2" height="0.73" fill="#ababab"/><rect x="306.71" y="366.39" width="1.2" height="0.91" fill="#ababab"/><rect x="354.33" y="366.20" width="1.2" height="1.10" fill="#ababab"/><rect x="376.78" y="362.19" width="1.2" height="5.11" fill="#ababab"/><rect x="381.54" y="364.56" width="1.2" height="2.74" fill="#ababab"/><rect x="385.63" y="363.65" width="1.2" height="3.65" fill="#ababab"/><rect x="389.03" y="361.82" width="1.2" height="5.48" fill="#ababab"/><rect x="391.07" y="331.68" width="1.2" height="35.62" fill="#ababab"/><rect x="394.47" y="357.25" width="1.2" height="10.05" fill="#ababab"/><rect x="397.87" y="361.82" width="1.2" height="5.48" fill="#ababab"/><rect x="399.23" y="363.65" width="1.2" height="3.65" fill="#ababab"/><rect x="401.61" y="338.07" width="1.2" height="29.23" fill="#ababab"/><rect x="403.31" y="362.73" width="1.2" height="4.57" fill="#ababab"/><rect x="405.01" y="346.29" width="1.2" height="21.01" fill="#ababab"/><rect x="406.71" y="359.99" width="1.2" height="7.31" fill="#ababab"/><rect x="408.07" y="347.21" width="1.2" height="20.09" fill="#ababab"/><rect x="409.44" y="358.17" width="1.2" height="9.13" fill="#ababab"/><rect x="410.80" y="356.34" width="1.2" height="10.96" fill="#ababab"/><rect x="412.50" y="351.77" width="1.2" height="15.53" fill="#ababab"/><rect x="413.52" y="359.99" width="1.2" height="7.31" fill="#ababab"/><rect x="415.08" y="338.99" width="1.2" height="28.31" fill="#ababab"/><rect x="416.24" y="354.51" width="1.2" height="12.79" fill="#ababab"/><rect x="418.14" y="329.85" width="1.2" height="37.45" fill="#ababab"/><rect x="419.84" y="351.77" width="1.2" height="15.53" fill="#ababab"/><rect x="421.34" y="358.17" width="1.2" height="9.13" fill="#ababab"/><rect x="423.24" y="354.51" width="1.2" height="12.79" fill="#ababab"/><rect x="425.08" y="338.99" width="1.2" height="28.31" fill="#ababab"/><rect x="426.58" y="349.95" width="1.2" height="17.35" fill="#ababab"/><rect x="428.14" y="359.99" width="1.2" height="7.31" fill="#ababab"/><rect x="429.84" y="359.99" width="1.2" height="7.31" fill="#ababab"/><rect x="431.20" y="358.17" width="1.2" height="9.13" fill="#ababab"/><rect x="433.79" y="352.69" width="1.2" height="14.61" fill="#ababab"/><rect x="434.81" y="355.43" width="1.2" height="11.87" fill="#ababab"/><rect x="437.26" y="348.12" width="1.2" height="19.18" fill="#ababab"/><rect x="438.35" y="359.99" width="1.2" height="7.31" fill="#ababab"/><rect x="439.71" y="324.37" width="1.2" height="42.93" fill="#ababab"/><rect x="441.75" y="342.64" width="1.2" height="24.66" fill="#ababab"/><rect x="443.11" y="361.82" width="1.2" height="5.48" fill="#ababab"/><rect x="445.29" y="357.25" width="1.2" height="10.05" fill="#ababab"/><rect x="446.85" y="351.77" width="1.2" height="15.53" fill="#ababab"/><rect x="448.62" y="362.73" width="1.2" height="4.57" fill="#ababab"/><rect x="449.37" y="350.86" width="1.2" height="16.44" fill="#ababab"/><rect x="450.93" y="362.73" width="1.2" height="4.57" fill="#ababab"/><rect x="452.56" y="359.08" width="1.2" height="8.22" fill="#ababab"/><rect x="454.54" y="354.51" width="1.2" height="12.79" fill="#ababab"/><rect x="455.35" y="352.69" width="1.2" height="14.61" fill="#ababab"/><rect x="457.73" y="363.65" width="1.2" height="3.65" fill="#ababab"/><rect x="460.86" y="345.38" width="1.2" height="21.92" fill="#ababab"/><rect x="463.18" y="362.73" width="1.2" height="4.57" fill="#ababab"/><rect x="466.58" y="364.56" width="1.2" height="2.74" fill="#ababab"/><rect x="470.59" y="353.14" width="1.2" height="14.16" fill="#ababab"/><rect x="376.30" y="359.90" width="1.2" height="7.40" fill="#00ee00" fill-opacity="0.6"/><rect x="382.20" y="363.00" width="1.2" height="4.30" fill="#00ee00" fill-opacity="0.6"/><rect x="386.00" y="361.90" width="1.2" height="5.40" fill="#00ee00" fill-opacity="0.6"/><rect x="391.10" y="357.60" width="1.2" height="9.70" fill="#00ee00" fill-opacity="0.6"/><rect x="394.40" y="359.90" width="1.2" height="7.40" fill="#00ee00" fill-opacity="0.6"/><rect x="399.80" y="353.80" width="1.2" height="13.50" fill="#00ee00" fill-opacity="0.6"/><rect x="401.40" y="352.20" width="1.2" height="15.10" fill="#00ee00" fill-opacity="0.6"/><rect x="402.90" y="356.10" width="1.2" height="11.20" fill="#00ee00" fill-opacity="0.6"/><rect x="405.20" y="356.10" width="1.2" height="11.20" fill="#00ee00" fill-opacity="0.6"/><rect x="408.30" y="351.50" width="1.2" height="15.80" fill="#00ee00" fill-opacity="0.6"/><rect x="412.60" y="362.20" width="1.2" height="5.10" fill="#00ee00" fill-opacity="0.6"/><rect x="417.90" y="347.60" width="1.2" height="19.70" fill="#00ee00" fill-opacity="0.6"/><rect x="419.80" y="353.00" width="1.2" height="14.30" fill="#00ee00" fill-opacity="0.6"/><rect x="421.40" y="357.60" width="1.2" height="9.70" fill="#00ee00" fill-opacity="0.6"/><rect x="424.50" y="341.50" width="1.2" height="25.80" fill="#00ee00" fill-opacity="0.6"/><rect x="426.00" y="348.40" width="1.2" height="18.90" fill="#00ee00" fill-opacity="0.6"/><rect x="428.00" y="356.10" width="1.2" height="11.20" fill="#00ee00" fill-opacity="0.6"/><rect x="431.40" y="359.20" width="1.2" height="8.10" fill="#00ee00" fill-opacity="0.6"/><rect x="433.70" y="354.50" width="1.2" height="12.80" fill="#00ee00" fill-opacity="0.6"/><rect x="436.00" y="349.90" width="1.2" height="17.40" fill="#00ee00" fill-opacity="0.6"/><rect x="439.40" y="356.10" width="1.2" height="11.20" fill="#00ee00" fill-opacity="0.6"/><rect x="441.40" y="348.40" width="1.2" height="18.90" fill="#00ee00" fill-opacity="0.6"/><rect x="442.90" y="357.60" width="1.2" height="9.70" fill="#00ee00" fill-opacity="0.6"/><rect x="446.00" y="362.20" width="1.2" height="5.10" fill="#00ee00" fill-opacity="0.6"/><rect x="449.00" y="360.70" width="1.2" height="6.60" fill="#00ee00" fill-opacity="0.6"/><rect x="452.90" y="362.20" width="1.2" height="5.10" fill="#00ee00" fill-opacity="0.6"/><rect x="454.80" y="345.00" width="1.2" height="22.30" fill="#00ee00" fill-opacity="0.6"/><rect x="460.90" y="360.70" width="1.2" height="6.60" fill="#00ee00" fill-opacity="0.6"/><rect x="470.30" y="359.90" width="1.2" height="7.40" fill="#00ee00" fill-opacity="0.6"/><line x1="273.3" y1="367.3" x2="521.6" y2="367.3" stroke="#505050" stroke-width="1"/><line x1="273.3" y1="367.3" x2="516.2" y2="367.3" stroke="#00ee00" stroke-opacity="0.6" stroke-width="1"/><polyline points="273.30,367.30 384.86,367.30 389.97,366.64 392.35,365.11 395.75,364.56 400.72,362.37 407.18,359.24 413.57,356.23 418.47,351.85 421.67,349.49 426.50,347.30 431.40,345.38 437.93,343.19 441.12,339.63 444.32,337.98 446.97,337.65 452.89,336.39 459.42,335.52 462.62,334.97 469.90,334.26 521.60,334.26" fill="none" stroke="#a6a6a6" stroke-width="1"/><polyline points="273.30,367.30 395.00,367.30 396.60,365.30 399.60,364.50 402.70,363.00 407.30,360.70 412.00,359.70 418.10,356.90 424.30,354.50 430.40,353.00 436.60,350.70 442.70,348.40 448.90,346.90 452.00,345.80 455.10,345.20 455.80,344.60 461.20,344.10 470.40,343.50 521.60,343.50" fill="none" stroke="#00ee00" stroke-width="1.1"/></g><line x1="280.0" y1="321.4" x2="293.7" y2="321.4" stroke="#a8a8a8" stroke-width="1.5"/><text x="300.9" y="322.9" font-size="6.5" fill="#b4b4b4" stroke="#b4b4b4">In Situ</text><line x1="280.0" y1="330.9" x2="293.7" y2="330.9" stroke="#00ee00" stroke-width="1.6"/><text x="300.9" y="332.4" font-size="6.5" fill="#00ee00" stroke="#00ee00">TAMSAT_025</text><text transform="translate(300.9,339.8) scale(1,1.12)" font-size="5.2" fill="#1a1a1a" stroke="#1a1a1a" xml:space="preserve">R=0.77, RMS= 3.9 mm/d, Bias=-169. mm</text><rect x="273.3" y="312.5" width="248.3" height="65.5" fill="none" stroke="#aaaaaa" stroke-width="1"/></g>
</svg>
</body></html>
